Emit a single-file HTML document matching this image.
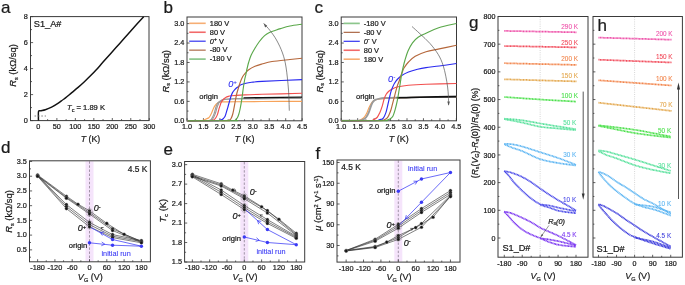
<!DOCTYPE html>
<html><head><meta charset="utf-8"><style>
html,body{margin:0;padding:0;background:#fff;}
svg{display:block;font-family:"Liberation Sans", sans-serif;}
text{-webkit-font-smoothing:antialiased;}
svg{will-change:transform;}
</style></head><body>
<svg width="685" height="285" viewBox="0 0 685 285">
<rect width="685" height="285" fill="#fff"/>
<text x="1" y="13.2" font-size="17" text-anchor="start" fill="#1a1a1a" stroke="#1a1a1a" stroke-width="0.22" font-weight="normal" font-style="normal" >a</text>
<text x="163.5" y="13.4" font-size="17" text-anchor="start" fill="#1a1a1a" stroke="#1a1a1a" stroke-width="0.22" font-weight="normal" font-style="normal" >b</text>
<text x="314.6" y="13.4" font-size="17" text-anchor="start" fill="#1a1a1a" stroke="#1a1a1a" stroke-width="0.22" font-weight="normal" font-style="normal" >c</text>
<text x="1" y="153.3" font-size="17" text-anchor="start" fill="#1a1a1a" stroke="#1a1a1a" stroke-width="0.22" font-weight="normal" font-style="normal" >d</text>
<text x="163.5" y="155" font-size="17" text-anchor="start" fill="#1a1a1a" stroke="#1a1a1a" stroke-width="0.22" font-weight="normal" font-style="normal" >e</text>
<text x="315.6" y="159" font-size="17" text-anchor="start" fill="#1a1a1a" stroke="#1a1a1a" stroke-width="0.22" font-weight="normal" font-style="normal" >f</text>
<text x="469" y="28" font-size="17" text-anchor="start" fill="#1a1a1a" stroke="#1a1a1a" stroke-width="0.22" font-weight="normal" font-style="normal" >g</text>
<text x="597.5" y="31" font-size="17" text-anchor="start" fill="#1a1a1a" stroke="#1a1a1a" stroke-width="0.22" font-weight="normal" font-style="normal" >h</text>
<rect x="30.5" y="16.6" width="118.5" height="104" fill="none" stroke="#3a3a3a" stroke-width="1" />
<line x1="38.4" y1="120.6" x2="38.4" y2="118" stroke="#3a3a3a" stroke-width="0.8" />
<text x="38.4" y="129" font-size="7.3" text-anchor="middle" fill="#1a1a1a" stroke="#1a1a1a" stroke-width="0.22" font-weight="normal" font-style="normal" >0</text>
<line x1="56.88" y1="120.6" x2="56.88" y2="118" stroke="#3a3a3a" stroke-width="0.8" />
<text x="56.88" y="129" font-size="7.3" text-anchor="middle" fill="#1a1a1a" stroke="#1a1a1a" stroke-width="0.22" font-weight="normal" font-style="normal" >50</text>
<line x1="75.35" y1="120.6" x2="75.35" y2="118" stroke="#3a3a3a" stroke-width="0.8" />
<text x="75.35" y="129" font-size="7.3" text-anchor="middle" fill="#1a1a1a" stroke="#1a1a1a" stroke-width="0.22" font-weight="normal" font-style="normal" >100</text>
<line x1="93.82" y1="120.6" x2="93.82" y2="118" stroke="#3a3a3a" stroke-width="0.8" />
<text x="93.82" y="129" font-size="7.3" text-anchor="middle" fill="#1a1a1a" stroke="#1a1a1a" stroke-width="0.22" font-weight="normal" font-style="normal" >150</text>
<line x1="112.3" y1="120.6" x2="112.3" y2="118" stroke="#3a3a3a" stroke-width="0.8" />
<text x="112.3" y="129" font-size="7.3" text-anchor="middle" fill="#1a1a1a" stroke="#1a1a1a" stroke-width="0.22" font-weight="normal" font-style="normal" >200</text>
<line x1="130.78" y1="120.6" x2="130.78" y2="118" stroke="#3a3a3a" stroke-width="0.8" />
<text x="130.78" y="129" font-size="7.3" text-anchor="middle" fill="#1a1a1a" stroke="#1a1a1a" stroke-width="0.22" font-weight="normal" font-style="normal" >250</text>
<line x1="149.25" y1="120.6" x2="149.25" y2="118" stroke="#3a3a3a" stroke-width="0.8" />
<text x="149.25" y="129" font-size="7.3" text-anchor="middle" fill="#1a1a1a" stroke="#1a1a1a" stroke-width="0.22" font-weight="normal" font-style="normal" >300</text>
<line x1="47.64" y1="120.6" x2="47.64" y2="119.1" stroke="#3a3a3a" stroke-width="0.8" />
<line x1="66.11" y1="120.6" x2="66.11" y2="119.1" stroke="#3a3a3a" stroke-width="0.8" />
<line x1="84.59" y1="120.6" x2="84.59" y2="119.1" stroke="#3a3a3a" stroke-width="0.8" />
<line x1="103.06" y1="120.6" x2="103.06" y2="119.1" stroke="#3a3a3a" stroke-width="0.8" />
<line x1="121.54" y1="120.6" x2="121.54" y2="119.1" stroke="#3a3a3a" stroke-width="0.8" />
<line x1="140.01" y1="120.6" x2="140.01" y2="119.1" stroke="#3a3a3a" stroke-width="0.8" />
<line x1="30.5" y1="120.6" x2="33.1" y2="120.6" stroke="#3a3a3a" stroke-width="0.8" />
<text x="27.9" y="122.86" font-size="7.3" text-anchor="end" fill="#1a1a1a" stroke="#1a1a1a" stroke-width="0.22" font-weight="normal" font-style="normal" >0</text>
<line x1="30.5" y1="94.6" x2="33.1" y2="94.6" stroke="#3a3a3a" stroke-width="0.8" />
<text x="27.9" y="96.86" font-size="7.3" text-anchor="end" fill="#1a1a1a" stroke="#1a1a1a" stroke-width="0.22" font-weight="normal" font-style="normal" >2</text>
<line x1="30.5" y1="68.6" x2="33.1" y2="68.6" stroke="#3a3a3a" stroke-width="0.8" />
<text x="27.9" y="70.86" font-size="7.3" text-anchor="end" fill="#1a1a1a" stroke="#1a1a1a" stroke-width="0.22" font-weight="normal" font-style="normal" >4</text>
<line x1="30.5" y1="42.6" x2="33.1" y2="42.6" stroke="#3a3a3a" stroke-width="0.8" />
<text x="27.9" y="44.86" font-size="7.3" text-anchor="end" fill="#1a1a1a" stroke="#1a1a1a" stroke-width="0.22" font-weight="normal" font-style="normal" >6</text>
<line x1="30.5" y1="16.6" x2="33.1" y2="16.6" stroke="#3a3a3a" stroke-width="0.8" />
<text x="27.9" y="18.86" font-size="7.3" text-anchor="end" fill="#1a1a1a" stroke="#1a1a1a" stroke-width="0.22" font-weight="normal" font-style="normal" >8</text>
<line x1="30.5" y1="107.6" x2="32" y2="107.6" stroke="#3a3a3a" stroke-width="0.8" />
<line x1="30.5" y1="81.6" x2="32" y2="81.6" stroke="#3a3a3a" stroke-width="0.8" />
<line x1="30.5" y1="55.6" x2="32" y2="55.6" stroke="#3a3a3a" stroke-width="0.8" />
<line x1="30.5" y1="29.6" x2="32" y2="29.6" stroke="#3a3a3a" stroke-width="0.8" />
<path d="M38.50,120.60 C38.50,119.10 38.17,113.23 38.50,111.60 C38.83,109.97 39.37,111.12 40.50,110.80 C41.63,110.48 43.45,110.30 45.30,109.70 C47.15,109.10 49.50,108.25 51.60,107.20 C53.70,106.15 56.07,104.60 57.90,103.40 C59.73,102.20 61.33,100.92 62.60,100.00 C63.87,99.08 63.97,99.13 65.50,97.90 C67.03,96.67 69.70,94.35 71.80,92.60 C73.90,90.85 76.00,89.22 78.10,87.40 C80.20,85.58 82.30,83.67 84.40,81.70 C86.50,79.73 88.72,77.58 90.70,75.60 C92.68,73.62 94.32,71.97 96.30,69.80 C98.28,67.63 100.15,65.37 102.60,62.60 C105.05,59.83 108.18,56.35 111.00,53.20 C113.82,50.05 116.68,46.87 119.50,43.70 C122.32,40.53 125.10,37.37 127.90,34.20 C130.70,31.03 133.67,27.62 136.30,24.70 C138.93,21.78 142.47,18.03 143.70,16.70" fill="none" stroke="#111" stroke-width="1.45" />
<path d="M34.5,116 H46" fill="none" stroke="#666" stroke-width="0.8" stroke-dasharray="1.6 1.8"/>
<text x="33.8" y="27" font-size="9.2" text-anchor="start" fill="#1a1a1a" stroke="#1a1a1a" stroke-width="0.22" font-weight="normal" font-style="normal" >S1_A#</text>
<text x="67" y="110.3" font-size="7.6" text-anchor="start" fill="#1a1a1a" stroke="#1a1a1a" stroke-width="0.22" font-weight="normal" font-style="normal" ><tspan font-style="italic">T</tspan><tspan font-size="5.5" dy="1.6">c</tspan><tspan dy="-1.6"> = 1.89 K</tspan></text>
<text x="90.5" y="142.4" font-size="8.8" text-anchor="middle" fill="#1a1a1a" stroke="#1a1a1a" stroke-width="0.22" font-weight="normal" font-style="normal" ><tspan font-style="italic">T</tspan> (K)</text>
<text x="16.2" y="65.5" font-size="9.4" text-anchor="middle" fill="#1a1a1a" stroke="#1a1a1a" stroke-width="0.22" font-weight="normal" font-style="normal" transform="rotate(-90 16.2 65.5)" ><tspan font-style="italic">R</tspan><tspan font-size="5.5" dy="1.6">s</tspan><tspan dy="-1.6"> (k&#937;/sq)</tspan></text>
<rect x="187" y="17" width="115" height="103.8" fill="none" stroke="#3a3a3a" stroke-width="1" />
<line x1="187" y1="120.8" x2="187" y2="118.2" stroke="#3a3a3a" stroke-width="0.8" />
<text x="187" y="129.2" font-size="7.3" text-anchor="middle" fill="#1a1a1a" stroke="#1a1a1a" stroke-width="0.22" font-weight="normal" font-style="normal" >1.0</text>
<line x1="203.45" y1="120.8" x2="203.45" y2="118.2" stroke="#3a3a3a" stroke-width="0.8" />
<text x="203.45" y="129.2" font-size="7.3" text-anchor="middle" fill="#1a1a1a" stroke="#1a1a1a" stroke-width="0.22" font-weight="normal" font-style="normal" >1.5</text>
<line x1="219.9" y1="120.8" x2="219.9" y2="118.2" stroke="#3a3a3a" stroke-width="0.8" />
<text x="219.9" y="129.2" font-size="7.3" text-anchor="middle" fill="#1a1a1a" stroke="#1a1a1a" stroke-width="0.22" font-weight="normal" font-style="normal" >2.0</text>
<line x1="236.35" y1="120.8" x2="236.35" y2="118.2" stroke="#3a3a3a" stroke-width="0.8" />
<text x="236.35" y="129.2" font-size="7.3" text-anchor="middle" fill="#1a1a1a" stroke="#1a1a1a" stroke-width="0.22" font-weight="normal" font-style="normal" >2.5</text>
<line x1="252.8" y1="120.8" x2="252.8" y2="118.2" stroke="#3a3a3a" stroke-width="0.8" />
<text x="252.8" y="129.2" font-size="7.3" text-anchor="middle" fill="#1a1a1a" stroke="#1a1a1a" stroke-width="0.22" font-weight="normal" font-style="normal" >3.0</text>
<line x1="269.25" y1="120.8" x2="269.25" y2="118.2" stroke="#3a3a3a" stroke-width="0.8" />
<text x="269.25" y="129.2" font-size="7.3" text-anchor="middle" fill="#1a1a1a" stroke="#1a1a1a" stroke-width="0.22" font-weight="normal" font-style="normal" >3.5</text>
<line x1="285.7" y1="120.8" x2="285.7" y2="118.2" stroke="#3a3a3a" stroke-width="0.8" />
<text x="285.7" y="129.2" font-size="7.3" text-anchor="middle" fill="#1a1a1a" stroke="#1a1a1a" stroke-width="0.22" font-weight="normal" font-style="normal" >4.0</text>
<line x1="302.15" y1="120.8" x2="302.15" y2="118.2" stroke="#3a3a3a" stroke-width="0.8" />
<text x="302.15" y="129.2" font-size="7.3" text-anchor="middle" fill="#1a1a1a" stroke="#1a1a1a" stroke-width="0.22" font-weight="normal" font-style="normal" >4.5</text>
<line x1="195.22" y1="120.8" x2="195.22" y2="119.3" stroke="#3a3a3a" stroke-width="0.8" />
<line x1="211.68" y1="120.8" x2="211.68" y2="119.3" stroke="#3a3a3a" stroke-width="0.8" />
<line x1="228.12" y1="120.8" x2="228.12" y2="119.3" stroke="#3a3a3a" stroke-width="0.8" />
<line x1="244.57" y1="120.8" x2="244.57" y2="119.3" stroke="#3a3a3a" stroke-width="0.8" />
<line x1="261.02" y1="120.8" x2="261.02" y2="119.3" stroke="#3a3a3a" stroke-width="0.8" />
<line x1="277.48" y1="120.8" x2="277.48" y2="119.3" stroke="#3a3a3a" stroke-width="0.8" />
<line x1="293.93" y1="120.8" x2="293.93" y2="119.3" stroke="#3a3a3a" stroke-width="0.8" />
<line x1="187" y1="120.8" x2="189.6" y2="120.8" stroke="#3a3a3a" stroke-width="0.8" />
<text x="184.4" y="123.06" font-size="7.3" text-anchor="end" fill="#1a1a1a" stroke="#1a1a1a" stroke-width="0.22" font-weight="normal" font-style="normal" >0.0</text>
<line x1="187" y1="101.36" x2="189.6" y2="101.36" stroke="#3a3a3a" stroke-width="0.8" />
<text x="184.4" y="103.62" font-size="7.3" text-anchor="end" fill="#1a1a1a" stroke="#1a1a1a" stroke-width="0.22" font-weight="normal" font-style="normal" >0.6</text>
<line x1="187" y1="81.92" x2="189.6" y2="81.92" stroke="#3a3a3a" stroke-width="0.8" />
<text x="184.4" y="84.18" font-size="7.3" text-anchor="end" fill="#1a1a1a" stroke="#1a1a1a" stroke-width="0.22" font-weight="normal" font-style="normal" >1.2</text>
<line x1="187" y1="62.48" x2="189.6" y2="62.48" stroke="#3a3a3a" stroke-width="0.8" />
<text x="184.4" y="64.74" font-size="7.3" text-anchor="end" fill="#1a1a1a" stroke="#1a1a1a" stroke-width="0.22" font-weight="normal" font-style="normal" >1.8</text>
<line x1="187" y1="43.04" x2="189.6" y2="43.04" stroke="#3a3a3a" stroke-width="0.8" />
<text x="184.4" y="45.3" font-size="7.3" text-anchor="end" fill="#1a1a1a" stroke="#1a1a1a" stroke-width="0.22" font-weight="normal" font-style="normal" >2.4</text>
<line x1="187" y1="23.6" x2="189.6" y2="23.6" stroke="#3a3a3a" stroke-width="0.8" />
<text x="184.4" y="25.86" font-size="7.3" text-anchor="end" fill="#1a1a1a" stroke="#1a1a1a" stroke-width="0.22" font-weight="normal" font-style="normal" >3.0</text>
<line x1="187" y1="111.08" x2="188.5" y2="111.08" stroke="#3a3a3a" stroke-width="0.8" />
<line x1="187" y1="91.64" x2="188.5" y2="91.64" stroke="#3a3a3a" stroke-width="0.8" />
<line x1="187" y1="72.2" x2="188.5" y2="72.2" stroke="#3a3a3a" stroke-width="0.8" />
<line x1="187" y1="52.76" x2="188.5" y2="52.76" stroke="#3a3a3a" stroke-width="0.8" />
<line x1="187" y1="33.32" x2="188.5" y2="33.32" stroke="#3a3a3a" stroke-width="0.8" />
<text x="244.5" y="142.3" font-size="9" text-anchor="middle" fill="#1a1a1a" stroke="#1a1a1a" stroke-width="0.22" font-weight="normal" font-style="normal" ><tspan font-style="italic">T</tspan> (K)</text>
<text x="168.7" y="71.3" font-size="9.4" text-anchor="middle" fill="#1a1a1a" stroke="#1a1a1a" stroke-width="0.22" font-weight="normal" font-style="normal" transform="rotate(-90 168.7 71.3)" ><tspan font-style="italic">R</tspan><tspan font-size="5.5" dy="1.6">s</tspan><tspan dy="-1.6"> (k&#937;/sq)</tspan></text>
<rect x="341.2" y="17" width="115.3" height="103.8" fill="none" stroke="#3a3a3a" stroke-width="1" />
<line x1="341.2" y1="120.8" x2="341.2" y2="118.2" stroke="#3a3a3a" stroke-width="0.8" />
<text x="341.2" y="129.2" font-size="7.3" text-anchor="middle" fill="#1a1a1a" stroke="#1a1a1a" stroke-width="0.22" font-weight="normal" font-style="normal" >1.0</text>
<line x1="357.65" y1="120.8" x2="357.65" y2="118.2" stroke="#3a3a3a" stroke-width="0.8" />
<text x="357.65" y="129.2" font-size="7.3" text-anchor="middle" fill="#1a1a1a" stroke="#1a1a1a" stroke-width="0.22" font-weight="normal" font-style="normal" >1.5</text>
<line x1="374.1" y1="120.8" x2="374.1" y2="118.2" stroke="#3a3a3a" stroke-width="0.8" />
<text x="374.1" y="129.2" font-size="7.3" text-anchor="middle" fill="#1a1a1a" stroke="#1a1a1a" stroke-width="0.22" font-weight="normal" font-style="normal" >2.0</text>
<line x1="390.55" y1="120.8" x2="390.55" y2="118.2" stroke="#3a3a3a" stroke-width="0.8" />
<text x="390.55" y="129.2" font-size="7.3" text-anchor="middle" fill="#1a1a1a" stroke="#1a1a1a" stroke-width="0.22" font-weight="normal" font-style="normal" >2.5</text>
<line x1="407" y1="120.8" x2="407" y2="118.2" stroke="#3a3a3a" stroke-width="0.8" />
<text x="407" y="129.2" font-size="7.3" text-anchor="middle" fill="#1a1a1a" stroke="#1a1a1a" stroke-width="0.22" font-weight="normal" font-style="normal" >3.0</text>
<line x1="423.45" y1="120.8" x2="423.45" y2="118.2" stroke="#3a3a3a" stroke-width="0.8" />
<text x="423.45" y="129.2" font-size="7.3" text-anchor="middle" fill="#1a1a1a" stroke="#1a1a1a" stroke-width="0.22" font-weight="normal" font-style="normal" >3.5</text>
<line x1="439.9" y1="120.8" x2="439.9" y2="118.2" stroke="#3a3a3a" stroke-width="0.8" />
<text x="439.9" y="129.2" font-size="7.3" text-anchor="middle" fill="#1a1a1a" stroke="#1a1a1a" stroke-width="0.22" font-weight="normal" font-style="normal" >4.0</text>
<line x1="456.35" y1="120.8" x2="456.35" y2="118.2" stroke="#3a3a3a" stroke-width="0.8" />
<text x="456.35" y="129.2" font-size="7.3" text-anchor="middle" fill="#1a1a1a" stroke="#1a1a1a" stroke-width="0.22" font-weight="normal" font-style="normal" >4.5</text>
<line x1="349.43" y1="120.8" x2="349.43" y2="119.3" stroke="#3a3a3a" stroke-width="0.8" />
<line x1="365.88" y1="120.8" x2="365.88" y2="119.3" stroke="#3a3a3a" stroke-width="0.8" />
<line x1="382.32" y1="120.8" x2="382.32" y2="119.3" stroke="#3a3a3a" stroke-width="0.8" />
<line x1="398.77" y1="120.8" x2="398.77" y2="119.3" stroke="#3a3a3a" stroke-width="0.8" />
<line x1="415.22" y1="120.8" x2="415.22" y2="119.3" stroke="#3a3a3a" stroke-width="0.8" />
<line x1="431.67" y1="120.8" x2="431.67" y2="119.3" stroke="#3a3a3a" stroke-width="0.8" />
<line x1="448.12" y1="120.8" x2="448.12" y2="119.3" stroke="#3a3a3a" stroke-width="0.8" />
<line x1="341.2" y1="120.8" x2="343.8" y2="120.8" stroke="#3a3a3a" stroke-width="0.8" />
<text x="338.6" y="123.06" font-size="7.3" text-anchor="end" fill="#1a1a1a" stroke="#1a1a1a" stroke-width="0.22" font-weight="normal" font-style="normal" >0.0</text>
<line x1="341.2" y1="101.36" x2="343.8" y2="101.36" stroke="#3a3a3a" stroke-width="0.8" />
<text x="338.6" y="103.62" font-size="7.3" text-anchor="end" fill="#1a1a1a" stroke="#1a1a1a" stroke-width="0.22" font-weight="normal" font-style="normal" >0.6</text>
<line x1="341.2" y1="81.92" x2="343.8" y2="81.92" stroke="#3a3a3a" stroke-width="0.8" />
<text x="338.6" y="84.18" font-size="7.3" text-anchor="end" fill="#1a1a1a" stroke="#1a1a1a" stroke-width="0.22" font-weight="normal" font-style="normal" >1.2</text>
<line x1="341.2" y1="62.48" x2="343.8" y2="62.48" stroke="#3a3a3a" stroke-width="0.8" />
<text x="338.6" y="64.74" font-size="7.3" text-anchor="end" fill="#1a1a1a" stroke="#1a1a1a" stroke-width="0.22" font-weight="normal" font-style="normal" >1.8</text>
<line x1="341.2" y1="43.04" x2="343.8" y2="43.04" stroke="#3a3a3a" stroke-width="0.8" />
<text x="338.6" y="45.3" font-size="7.3" text-anchor="end" fill="#1a1a1a" stroke="#1a1a1a" stroke-width="0.22" font-weight="normal" font-style="normal" >2.4</text>
<line x1="341.2" y1="23.6" x2="343.8" y2="23.6" stroke="#3a3a3a" stroke-width="0.8" />
<text x="338.6" y="25.86" font-size="7.3" text-anchor="end" fill="#1a1a1a" stroke="#1a1a1a" stroke-width="0.22" font-weight="normal" font-style="normal" >3.0</text>
<line x1="341.2" y1="111.08" x2="342.7" y2="111.08" stroke="#3a3a3a" stroke-width="0.8" />
<line x1="341.2" y1="91.64" x2="342.7" y2="91.64" stroke="#3a3a3a" stroke-width="0.8" />
<line x1="341.2" y1="72.2" x2="342.7" y2="72.2" stroke="#3a3a3a" stroke-width="0.8" />
<line x1="341.2" y1="52.76" x2="342.7" y2="52.76" stroke="#3a3a3a" stroke-width="0.8" />
<line x1="341.2" y1="33.32" x2="342.7" y2="33.32" stroke="#3a3a3a" stroke-width="0.8" />
<text x="398.7" y="142.3" font-size="9" text-anchor="middle" fill="#1a1a1a" stroke="#1a1a1a" stroke-width="0.22" font-weight="normal" font-style="normal" ><tspan font-style="italic">T</tspan> (K)</text>
<text x="322.9" y="71.3" font-size="9.4" text-anchor="middle" fill="#1a1a1a" stroke="#1a1a1a" stroke-width="0.22" font-weight="normal" font-style="normal" transform="rotate(-90 322.9 71.3)" ><tspan font-style="italic">R</tspan><tspan font-size="5.5" dy="1.6">s</tspan><tspan dy="-1.6"> (k&#937;/sq)</tspan></text>
<path d="M187.50,120.80 C189.58,120.78 197.42,120.77 200.00,120.70 C202.58,120.63 202.17,120.62 203.00,120.40 C203.83,120.18 204.33,119.70 205.00,119.40 C205.67,119.10 206.37,118.88 207.00,118.60 C207.63,118.32 208.25,118.20 208.80,117.70 C209.35,117.20 209.83,116.38 210.30,115.60 C210.77,114.82 211.18,113.93 211.60,113.00 C212.02,112.07 212.40,110.95 212.80,110.00 C213.20,109.05 213.60,108.07 214.00,107.30 C214.40,106.53 214.80,105.95 215.20,105.40 C215.60,104.85 215.97,104.42 216.40,104.00 C216.83,103.58 217.33,103.20 217.80,102.90 C218.27,102.60 218.58,102.37 219.20,102.20 C219.82,102.03 218.87,101.97 221.50,101.90 C224.13,101.83 228.25,101.87 235.00,101.80 C241.75,101.73 250.83,101.58 262.00,101.50 C273.17,101.42 295.33,101.33 302.00,101.30" fill="none" stroke="#f7a35a" stroke-width="1.15" stroke-linejoin="round"/>
<path d="M186.30,120.80 C189.72,120.78 202.93,120.77 206.80,120.70 C210.67,120.63 208.78,120.58 209.50,120.40 C210.22,120.22 210.60,120.13 211.10,119.60 C211.60,119.07 212.02,118.15 212.50,117.20 C212.98,116.25 213.58,115.02 214.00,113.90 C214.42,112.78 214.68,111.60 215.00,110.50 C215.32,109.40 215.60,108.22 215.90,107.30 C216.20,106.38 216.50,105.72 216.80,105.00 C217.10,104.28 217.32,103.57 217.70,103.00 C218.08,102.43 218.62,101.98 219.10,101.60 C219.58,101.22 220.07,101.00 220.60,100.70 C221.13,100.40 221.63,100.03 222.30,99.80 C222.97,99.57 222.48,99.47 224.60,99.30 C226.72,99.13 228.77,98.92 235.00,98.80 C241.23,98.68 250.83,98.68 262.00,98.60 C273.17,98.52 295.33,98.35 302.00,98.30" fill="none" stroke="#9a9a9a" stroke-width="1.15" stroke-linejoin="round"/>
<path d="M187.50,120.80 C190.92,120.78 204.13,120.77 208.00,120.70 C211.87,120.63 209.98,120.58 210.70,120.40 C211.42,120.22 211.80,120.13 212.30,119.60 C212.80,119.07 213.22,118.15 213.70,117.20 C214.18,116.25 214.78,115.02 215.20,113.90 C215.62,112.78 215.88,111.60 216.20,110.50 C216.52,109.40 216.80,108.22 217.10,107.30 C217.40,106.38 217.70,105.72 218.00,105.00 C218.30,104.28 218.52,103.57 218.90,103.00 C219.28,102.43 219.82,101.98 220.30,101.60 C220.78,101.22 221.27,101.00 221.80,100.70 C222.33,100.40 222.83,100.03 223.50,99.80 C224.17,99.57 223.88,99.47 225.80,99.30 C227.72,99.13 228.97,98.92 235.00,98.80 C241.03,98.68 250.83,98.68 262.00,98.60 C273.17,98.52 295.33,98.35 302.00,98.30" fill="none" stroke="#9a9a9a" stroke-width="1.15" stroke-linejoin="round"/>
<path d="M243.50,97.90 C246.58,97.85 252.25,97.73 262.00,97.60 C271.75,97.47 295.33,97.18 302.00,97.10" fill="none" stroke="#111" stroke-width="1.35" stroke-linejoin="round"/>
<path d="M187.50,120.80 C191.25,120.78 205.83,120.78 210.00,120.70 C214.17,120.62 211.75,120.52 212.50,120.30 C213.25,120.08 213.92,119.87 214.50,119.40 C215.08,118.93 215.53,118.25 216.00,117.50 C216.47,116.75 216.92,115.90 217.30,114.90 C217.68,113.90 217.98,112.62 218.30,111.50 C218.62,110.38 218.88,109.25 219.20,108.20 C219.52,107.15 219.88,106.13 220.20,105.20 C220.52,104.27 220.72,103.40 221.10,102.60 C221.48,101.80 222.03,101.03 222.50,100.40 C222.97,99.77 223.35,99.28 223.90,98.80 C224.45,98.32 225.17,97.87 225.80,97.50 C226.43,97.13 226.75,96.90 227.70,96.60 C228.65,96.30 228.62,95.98 231.50,95.70 C234.38,95.42 239.92,95.13 245.00,94.90 C250.08,94.67 252.50,94.57 262.00,94.30 C271.50,94.03 295.33,93.47 302.00,93.30" fill="none" stroke="#f2504f" stroke-width="1.15" stroke-linejoin="round"/>
<path d="M187.50,120.80 C192.08,120.78 209.77,120.75 215.00,120.70 C220.23,120.65 217.73,120.68 218.90,120.50 C220.07,120.32 221.25,119.93 222.00,119.60 C222.75,119.27 222.93,118.97 223.40,118.50 C223.87,118.03 224.40,117.52 224.80,116.80 C225.20,116.08 225.48,115.15 225.80,114.20 C226.12,113.25 226.38,112.17 226.70,111.10 C227.02,110.03 227.38,108.90 227.70,107.80 C228.02,106.70 228.33,105.47 228.60,104.50 C228.87,103.53 229.07,102.80 229.30,102.00 C229.53,101.20 229.72,100.67 230.00,99.70 C230.28,98.73 230.58,97.38 231.00,96.20 C231.42,95.02 231.93,93.63 232.50,92.60 C233.07,91.57 233.75,90.77 234.40,90.00 C235.05,89.23 235.65,88.62 236.40,88.00 C237.15,87.38 238.13,86.85 238.90,86.30 C239.67,85.75 239.82,85.22 241.00,84.70 C242.18,84.18 244.23,83.60 246.00,83.20 C247.77,82.80 248.93,82.60 251.60,82.30 C254.27,82.00 253.60,81.85 262.00,81.40 C270.40,80.95 295.33,79.90 302.00,79.60" fill="none" stroke="#2a2af0" stroke-width="1.15" stroke-linejoin="round"/>
<path d="M187.50,120.80 C193.92,120.78 219.17,120.77 226.00,120.70 C232.83,120.63 227.70,120.68 228.50,120.40 C229.30,120.12 230.07,120.15 230.80,119.00 C231.53,117.85 232.15,116.50 232.90,113.50 C233.65,110.50 234.67,104.25 235.30,101.00 C235.93,97.75 236.30,95.75 236.70,94.00 C237.10,92.25 237.18,92.25 237.70,90.50 C238.22,88.75 238.98,85.78 239.80,83.50 C240.62,81.22 241.65,78.55 242.60,76.80 C243.55,75.05 244.48,74.17 245.50,73.00 C246.52,71.83 247.12,70.92 248.70,69.80 C250.28,68.68 252.78,67.27 255.00,66.30 C257.22,65.33 259.17,64.80 262.00,64.00 C264.83,63.20 267.33,62.25 272.00,61.50 C276.67,60.75 285.00,60.03 290.00,59.50 C295.00,58.97 300.00,58.50 302.00,58.30" fill="none" stroke="#b5673b" stroke-width="1.15" stroke-linejoin="round"/>
<path d="M187.50,120.80 C195.25,120.78 226.05,120.80 234.00,120.70 C241.95,120.60 234.67,120.65 235.20,120.20 C235.73,119.75 236.62,118.95 237.20,118.00 C237.78,117.05 238.20,116.08 238.70,114.50 C239.20,112.92 239.67,111.13 240.20,108.50 C240.73,105.87 241.38,102.12 241.90,98.70 C242.42,95.28 242.85,91.12 243.30,88.00 C243.75,84.88 244.18,82.20 244.60,80.00 C245.02,77.80 245.37,76.80 245.80,74.80 C246.23,72.80 246.73,70.05 247.20,68.00 C247.67,65.95 247.97,64.58 248.60,62.50 C249.23,60.42 249.97,57.83 251.00,55.50 C252.03,53.17 253.40,50.83 254.80,48.50 C256.20,46.17 257.77,43.65 259.40,41.50 C261.03,39.35 262.83,37.13 264.60,35.60 C266.37,34.07 268.27,33.15 270.00,32.30 C271.73,31.45 273.25,31.12 275.00,30.50 C276.75,29.88 278.00,29.35 280.50,28.60 C283.00,27.85 286.42,26.73 290.00,26.00 C293.58,25.27 300.00,24.50 302.00,24.20" fill="none" stroke="#5aa84a" stroke-width="1.15" stroke-linejoin="round"/>
<line x1="189.2" y1="23.3" x2="205.7" y2="23.3" stroke="#f6ae74" stroke-width="1.6" />
<text x="209.8" y="25.6" font-size="7.4" text-anchor="start" fill="#1a1a1a" stroke="#1a1a1a" stroke-width="0.22" font-weight="normal" font-style="normal" >180 V</text>
<line x1="189.2" y1="32.25" x2="205.7" y2="32.25" stroke="#f26a6a" stroke-width="1.6" />
<text x="209.8" y="34.55" font-size="7.4" text-anchor="start" fill="#1a1a1a" stroke="#1a1a1a" stroke-width="0.22" font-weight="normal" font-style="normal" >80 V</text>
<line x1="189.2" y1="41.2" x2="205.7" y2="41.2" stroke="#3434f0" stroke-width="1.2" />
<text x="209.8" y="43.5" font-size="7.4" text-anchor="start" fill="#1a1a1a" stroke="#1a1a1a" stroke-width="0.22" font-weight="normal" font-style="normal" ><tspan font-style="italic">0</tspan><tspan dy="-2.5" font-size="5">+</tspan><tspan dy="2.5"> V</tspan></text>
<line x1="189.2" y1="50.15" x2="205.7" y2="50.15" stroke="#b07050" stroke-width="1.25" />
<text x="209.8" y="52.45" font-size="7.4" text-anchor="start" fill="#1a1a1a" stroke="#1a1a1a" stroke-width="0.22" font-weight="normal" font-style="normal" >-80 V</text>
<line x1="189.2" y1="59.1" x2="205.7" y2="59.1" stroke="#8cc68c" stroke-width="1.7" />
<text x="209.8" y="61.4" font-size="7.4" text-anchor="start" fill="#1a1a1a" stroke="#1a1a1a" stroke-width="0.22" font-weight="normal" font-style="normal" >-180 V</text>
<text x="199.3" y="98.6" font-size="7.6" text-anchor="start" fill="#1a1a1a" stroke="#1a1a1a" stroke-width="0.22" font-weight="normal" font-style="normal" >origin</text>
<text x="228.2" y="87.2" font-size="9.2" text-anchor="start" fill="#2a2af0" stroke="#2a2af0" stroke-width="0.08" font-weight="normal" font-style="italic" >0<tspan dy="-3" font-size="6">+</tspan></text>
<path d="M289.30,110.70 C289.17,107.25 289.05,97.28 288.50,90.00 C287.95,82.72 287.00,73.17 286.00,67.00 C285.00,60.83 284.08,57.50 282.50,53.00 C280.92,48.50 278.58,43.75 276.50,40.00 C274.42,36.25 272.12,33.25 270.00,30.50 C267.88,27.75 264.83,24.67 263.80,23.50" fill="none" stroke="#555" stroke-width="0.7" />
<path d="M263.6,23.3 L267.21,25.81 L265.16,27.41 Z" fill="#555"/>
<path d="M341.50,120.80 C343.92,120.78 353.00,120.78 356.00,120.70 C359.00,120.62 358.50,120.58 359.50,120.30 C360.50,120.02 361.17,119.58 362.00,119.00 C362.83,118.42 363.70,117.80 364.50,116.80 C365.30,115.80 366.08,114.47 366.80,113.00 C367.52,111.53 368.13,109.50 368.80,108.00 C369.47,106.50 370.10,105.13 370.80,104.00 C371.50,102.87 372.13,101.92 373.00,101.20 C373.87,100.48 374.83,100.08 376.00,99.70 C377.17,99.32 378.33,99.12 380.00,98.90 C381.67,98.68 383.50,98.57 386.00,98.40 C388.50,98.23 389.33,98.08 395.00,97.90 C400.67,97.72 409.75,97.52 420.00,97.30 C430.25,97.08 450.42,96.72 456.50,96.60" fill="none" stroke="#f7a35a" stroke-width="1.15" stroke-linejoin="round"/>
<path d="M341.50,120.80 C344.42,120.78 355.45,120.90 359.00,120.70 C362.55,120.50 361.63,120.13 362.80,119.60 C363.97,119.07 365.03,118.62 366.00,117.50 C366.97,116.38 367.83,114.63 368.60,112.90 C369.37,111.17 369.95,108.83 370.60,107.10 C371.25,105.37 371.75,103.70 372.50,102.50 C373.25,101.30 373.90,100.55 375.10,99.90 C376.30,99.25 377.85,98.92 379.70,98.60 C381.55,98.28 383.65,98.17 386.20,98.00 C388.75,97.83 389.37,97.75 395.00,97.60 C400.63,97.45 409.75,97.23 420.00,97.10 C430.25,96.97 450.42,96.85 456.50,96.80" fill="none" stroke="#9a9a9a" stroke-width="1.9" stroke-linejoin="round"/>
<path d="M396.80,97.90 C400.67,97.78 410.05,97.42 420.00,97.20 C429.95,96.98 450.42,96.70 456.50,96.60" fill="none" stroke="#111" stroke-width="1.6" stroke-linejoin="round"/>
<path d="M341.50,120.80 C346.13,120.78 364.02,120.87 369.30,120.70 C374.58,120.53 371.90,120.33 373.20,119.80 C374.50,119.27 376.02,118.65 377.10,117.50 C378.18,116.35 378.83,114.85 379.70,112.90 C380.57,110.95 381.55,108.15 382.30,105.80 C383.05,103.45 383.55,100.72 384.20,98.80 C384.85,96.88 385.43,95.55 386.20,94.30 C386.97,93.05 387.80,92.18 388.80,91.30 C389.80,90.42 390.65,89.75 392.20,89.00 C393.75,88.25 395.40,87.43 398.10,86.80 C400.80,86.17 403.72,85.63 408.40,85.20 C413.08,84.77 418.18,84.48 426.20,84.20 C434.22,83.92 451.45,83.62 456.50,83.50" fill="none" stroke="#f2504f" stroke-width="1.15" stroke-linejoin="round"/>
<path d="M341.50,120.80 C347.08,120.78 368.80,120.82 375.00,120.70 C381.20,120.58 377.70,120.32 378.70,120.10 C379.70,119.88 380.23,119.73 381.00,119.40 C381.77,119.07 382.48,119.23 383.30,118.10 C384.12,116.97 385.15,114.78 385.90,112.60 C386.65,110.42 387.20,107.52 387.80,105.00 C388.40,102.48 388.95,99.80 389.50,97.50 C390.05,95.20 390.58,92.92 391.10,91.20 C391.62,89.48 392.03,88.52 392.60,87.20 C393.17,85.88 393.73,84.58 394.50,83.30 C395.27,82.02 396.00,80.80 397.20,79.50 C398.40,78.20 399.82,76.75 401.70,75.50 C403.58,74.25 405.87,73.03 408.50,72.00 C411.13,70.97 414.58,70.03 417.50,69.30 C420.42,68.57 422.38,68.15 426.00,67.60 C429.62,67.05 434.12,66.68 439.20,66.00 C444.28,65.32 453.62,63.92 456.50,63.50" fill="none" stroke="#2a2af0" stroke-width="1.15" stroke-linejoin="round"/>
<path d="M341.50,120.80 C347.92,120.78 372.93,120.85 380.00,120.70 C387.07,120.55 382.65,120.42 383.90,119.90 C385.15,119.38 386.42,119.00 387.50,117.60 C388.58,116.20 389.55,113.83 390.40,111.50 C391.25,109.17 391.85,106.38 392.60,103.60 C393.35,100.82 394.15,97.63 394.90,94.80 C395.65,91.97 396.37,88.95 397.10,86.60 C397.83,84.25 398.72,82.38 399.30,80.70 C399.88,79.02 400.07,78.03 400.60,76.50 C401.13,74.97 401.93,72.92 402.50,71.50 C403.07,70.08 403.00,69.58 404.00,68.00 C405.00,66.42 406.63,63.95 408.50,62.00 C410.37,60.05 412.28,58.02 415.20,56.30 C418.12,54.58 422.00,52.93 426.00,51.70 C430.00,50.47 434.12,49.97 439.20,48.90 C444.28,47.83 453.62,45.90 456.50,45.30" fill="none" stroke="#b5673b" stroke-width="1.15" stroke-linejoin="round"/>
<path d="M341.50,120.80 C348.50,120.78 375.97,120.80 383.50,120.70 C391.03,120.60 385.63,120.47 386.70,120.20 C387.77,119.93 388.87,119.77 389.90,119.10 C390.93,118.43 392.03,117.75 392.90,116.20 C393.77,114.65 394.37,112.38 395.10,109.80 C395.83,107.22 396.68,103.70 397.30,100.70 C397.92,97.70 398.32,94.67 398.80,91.80 C399.28,88.93 399.72,86.47 400.20,83.50 C400.68,80.53 401.18,76.83 401.70,74.00 C402.22,71.17 402.75,68.83 403.30,66.50 C403.85,64.17 404.22,62.58 405.00,60.00 C405.78,57.42 406.75,53.87 408.00,51.00 C409.25,48.13 410.82,45.10 412.50,42.80 C414.18,40.50 415.93,38.75 418.10,37.20 C420.27,35.65 422.07,35.07 425.50,33.50 C428.93,31.93 433.53,29.47 438.70,27.80 C443.87,26.13 453.53,24.22 456.50,23.50" fill="none" stroke="#5aa84a" stroke-width="1.15" stroke-linejoin="round"/>
<line x1="343.6" y1="23.4" x2="359.8" y2="23.4" stroke="#8cc68c" stroke-width="1.7" />
<text x="363.8" y="25.7" font-size="7.4" text-anchor="start" fill="#1a1a1a" stroke="#1a1a1a" stroke-width="0.22" font-weight="normal" font-style="normal" >-180 V</text>
<line x1="343.6" y1="32.35" x2="359.8" y2="32.35" stroke="#b07050" stroke-width="1.25" />
<text x="363.8" y="34.65" font-size="7.4" text-anchor="start" fill="#1a1a1a" stroke="#1a1a1a" stroke-width="0.22" font-weight="normal" font-style="normal" >-80 V</text>
<line x1="343.6" y1="41.3" x2="359.8" y2="41.3" stroke="#3434f0" stroke-width="1.2" />
<text x="363.8" y="43.6" font-size="7.4" text-anchor="start" fill="#1a1a1a" stroke="#1a1a1a" stroke-width="0.22" font-weight="normal" font-style="normal" ><tspan font-style="italic">0</tspan><tspan dy="-2.5" font-size="5">-</tspan><tspan dy="2.5"> V</tspan></text>
<line x1="343.6" y1="50.25" x2="359.8" y2="50.25" stroke="#f26a6a" stroke-width="1.6" />
<text x="363.8" y="52.55" font-size="7.4" text-anchor="start" fill="#1a1a1a" stroke="#1a1a1a" stroke-width="0.22" font-weight="normal" font-style="normal" >80 V</text>
<line x1="343.6" y1="59.2" x2="359.8" y2="59.2" stroke="#f6ae74" stroke-width="1.6" />
<text x="363.8" y="61.5" font-size="7.4" text-anchor="start" fill="#1a1a1a" stroke="#1a1a1a" stroke-width="0.22" font-weight="normal" font-style="normal" >180 V</text>
<text x="356" y="98.6" font-size="7.6" text-anchor="start" fill="#1a1a1a" stroke="#1a1a1a" stroke-width="0.22" font-weight="normal" font-style="normal" >origin</text>
<text x="388" y="81.8" font-size="9.2" text-anchor="start" fill="#2a2af0" stroke="#2a2af0" stroke-width="0.08" font-weight="normal" font-style="italic" >0<tspan dy="-3" font-size="6">-</tspan></text>
<path d="M412.00,26.50 C413.33,27.72 417.00,30.97 420.00,33.80 C423.00,36.63 426.97,40.07 430.00,43.50 C433.03,46.93 436.03,50.82 438.20,54.40 C440.37,57.98 441.73,61.37 443.00,65.00 C444.27,68.63 445.03,72.53 445.80,76.20 C446.57,79.87 447.17,83.67 447.60,87.00 C448.03,90.33 448.23,93.20 448.40,96.20 C448.57,99.20 448.57,103.53 448.60,105.00" fill="none" stroke="#555" stroke-width="0.7" />
<path d="M448.6,105.8 L447.3,101.6 L449.9,101.6 Z" fill="#555"/>
<rect x="85.5" y="161.3" width="8" height="100" fill="#f5e4fb" stroke="none" stroke-width="1" />
<line x1="89.5" y1="161.3" x2="89.5" y2="261.3" stroke="#8c8090" stroke-width="0.8" stroke-dasharray="2.4 1.7"/>
<rect x="29.5" y="160.8" width="120.9" height="101" fill="none" stroke="#3a3a3a" stroke-width="1" />
<line x1="37.61" y1="261.8" x2="37.61" y2="259.2" stroke="#3a3a3a" stroke-width="0.8" />
<text x="37.61" y="270.2" font-size="7.3" text-anchor="middle" fill="#1a1a1a" stroke="#1a1a1a" stroke-width="0.22" font-weight="normal" font-style="normal" >-180</text>
<line x1="54.9" y1="261.8" x2="54.9" y2="259.2" stroke="#3a3a3a" stroke-width="0.8" />
<text x="54.9" y="270.2" font-size="7.3" text-anchor="middle" fill="#1a1a1a" stroke="#1a1a1a" stroke-width="0.22" font-weight="normal" font-style="normal" >-120</text>
<line x1="72.2" y1="261.8" x2="72.2" y2="259.2" stroke="#3a3a3a" stroke-width="0.8" />
<text x="72.2" y="270.2" font-size="7.3" text-anchor="middle" fill="#1a1a1a" stroke="#1a1a1a" stroke-width="0.22" font-weight="normal" font-style="normal" >-60</text>
<line x1="89.5" y1="261.8" x2="89.5" y2="259.2" stroke="#3a3a3a" stroke-width="0.8" />
<text x="89.5" y="270.2" font-size="7.3" text-anchor="middle" fill="#1a1a1a" stroke="#1a1a1a" stroke-width="0.22" font-weight="normal" font-style="normal" >0</text>
<line x1="106.8" y1="261.8" x2="106.8" y2="259.2" stroke="#3a3a3a" stroke-width="0.8" />
<text x="106.8" y="270.2" font-size="7.3" text-anchor="middle" fill="#1a1a1a" stroke="#1a1a1a" stroke-width="0.22" font-weight="normal" font-style="normal" >60</text>
<line x1="124.1" y1="261.8" x2="124.1" y2="259.2" stroke="#3a3a3a" stroke-width="0.8" />
<text x="124.1" y="270.2" font-size="7.3" text-anchor="middle" fill="#1a1a1a" stroke="#1a1a1a" stroke-width="0.22" font-weight="normal" font-style="normal" >120</text>
<line x1="141.39" y1="261.8" x2="141.39" y2="259.2" stroke="#3a3a3a" stroke-width="0.8" />
<text x="141.39" y="270.2" font-size="7.3" text-anchor="middle" fill="#1a1a1a" stroke="#1a1a1a" stroke-width="0.22" font-weight="normal" font-style="normal" >180</text>
<line x1="46.26" y1="261.8" x2="46.26" y2="260.3" stroke="#3a3a3a" stroke-width="0.8" />
<line x1="63.55" y1="261.8" x2="63.55" y2="260.3" stroke="#3a3a3a" stroke-width="0.8" />
<line x1="80.85" y1="261.8" x2="80.85" y2="260.3" stroke="#3a3a3a" stroke-width="0.8" />
<line x1="98.15" y1="261.8" x2="98.15" y2="260.3" stroke="#3a3a3a" stroke-width="0.8" />
<line x1="115.45" y1="261.8" x2="115.45" y2="260.3" stroke="#3a3a3a" stroke-width="0.8" />
<line x1="132.75" y1="261.8" x2="132.75" y2="260.3" stroke="#3a3a3a" stroke-width="0.8" />
<line x1="29.5" y1="249.85" x2="32.1" y2="249.85" stroke="#3a3a3a" stroke-width="0.8" />
<text x="26.9" y="252.11" font-size="7.3" text-anchor="end" fill="#1a1a1a" stroke="#1a1a1a" stroke-width="0.22" font-weight="normal" font-style="normal" >0.5</text>
<line x1="29.5" y1="235.12" x2="32.1" y2="235.12" stroke="#3a3a3a" stroke-width="0.8" />
<text x="26.9" y="237.39" font-size="7.3" text-anchor="end" fill="#1a1a1a" stroke="#1a1a1a" stroke-width="0.22" font-weight="normal" font-style="normal" >1.0</text>
<line x1="29.5" y1="220.4" x2="32.1" y2="220.4" stroke="#3a3a3a" stroke-width="0.8" />
<text x="26.9" y="222.66" font-size="7.3" text-anchor="end" fill="#1a1a1a" stroke="#1a1a1a" stroke-width="0.22" font-weight="normal" font-style="normal" >1.5</text>
<line x1="29.5" y1="205.68" x2="32.1" y2="205.68" stroke="#3a3a3a" stroke-width="0.8" />
<text x="26.9" y="207.94" font-size="7.3" text-anchor="end" fill="#1a1a1a" stroke="#1a1a1a" stroke-width="0.22" font-weight="normal" font-style="normal" >2.0</text>
<line x1="29.5" y1="190.95" x2="32.1" y2="190.95" stroke="#3a3a3a" stroke-width="0.8" />
<text x="26.9" y="193.21" font-size="7.3" text-anchor="end" fill="#1a1a1a" stroke="#1a1a1a" stroke-width="0.22" font-weight="normal" font-style="normal" >2.5</text>
<line x1="29.5" y1="176.22" x2="32.1" y2="176.22" stroke="#3a3a3a" stroke-width="0.8" />
<text x="26.9" y="178.49" font-size="7.3" text-anchor="end" fill="#1a1a1a" stroke="#1a1a1a" stroke-width="0.22" font-weight="normal" font-style="normal" >3.0</text>
<line x1="29.5" y1="161.5" x2="32.1" y2="161.5" stroke="#3a3a3a" stroke-width="0.8" />
<text x="26.9" y="163.76" font-size="7.3" text-anchor="end" fill="#1a1a1a" stroke="#1a1a1a" stroke-width="0.22" font-weight="normal" font-style="normal" >3.5</text>
<line x1="29.5" y1="257.21" x2="31" y2="257.21" stroke="#3a3a3a" stroke-width="0.8" />
<line x1="29.5" y1="242.49" x2="31" y2="242.49" stroke="#3a3a3a" stroke-width="0.8" />
<line x1="29.5" y1="227.76" x2="31" y2="227.76" stroke="#3a3a3a" stroke-width="0.8" />
<line x1="29.5" y1="213.04" x2="31" y2="213.04" stroke="#3a3a3a" stroke-width="0.8" />
<line x1="29.5" y1="198.31" x2="31" y2="198.31" stroke="#3a3a3a" stroke-width="0.8" />
<line x1="29.5" y1="183.59" x2="31" y2="183.59" stroke="#3a3a3a" stroke-width="0.8" />
<line x1="29.5" y1="168.86" x2="31" y2="168.86" stroke="#3a3a3a" stroke-width="0.8" />
<text x="90.3" y="280.2" font-size="9" text-anchor="middle" fill="#1a1a1a" stroke="#1a1a1a" stroke-width="0.22" font-weight="normal" font-style="normal" ><tspan font-style="italic">V</tspan><tspan font-size="5.6" dy="2.2">G</tspan><tspan dy="-2.2"> (V)</tspan></text>
<text x="12.3" y="211.5" font-size="9.4" text-anchor="middle" fill="#1a1a1a" stroke="#1a1a1a" stroke-width="0.22" font-weight="normal" font-style="normal" transform="rotate(-90 12.3 211.5)" ><tspan font-style="italic">R</tspan><tspan font-size="5.5" dy="1.6">s</tspan><tspan dy="-1.6"> (k&#937;/sq)</tspan></text>
<polyline points="37.61,175 66.44,196.2 77.97,204.2 89.5,210.8 106.8,223.4 124.1,234.3 141.39,241.2" fill="none" stroke="#2a2a2a" stroke-width="0.6" stroke-linejoin="round" />
<polyline points="37.61,175.6 66.44,197.4 89.5,212.6 112.56,228.8 141.39,241.8" fill="none" stroke="#2a2a2a" stroke-width="0.6" stroke-linejoin="round" />
<polyline points="37.61,176 66.44,198.2 89.5,214 112.56,230.5 141.39,242.4" fill="none" stroke="#2a2a2a" stroke-width="0.6" stroke-linejoin="round" />
<polyline points="37.61,175.3 66.44,204.6 89.5,222.4 112.56,234.6 141.39,240.6" fill="none" stroke="#2a2a2a" stroke-width="0.6" stroke-linejoin="round" />
<polyline points="37.61,175.8 66.44,206.6 89.5,224.6 112.56,236.2 141.39,241.6" fill="none" stroke="#2a2a2a" stroke-width="0.6" stroke-linejoin="round" />
<polyline points="37.61,176.3 66.44,208.6 89.5,226.8 112.56,237.6 141.39,242.8" fill="none" stroke="#2a2a2a" stroke-width="0.6" stroke-linejoin="round" />
<circle cx="37.61" cy="175" r="1.55" fill="#141414" stroke="#8a8a8a" stroke-width="0.35"/>
<circle cx="66.44" cy="196.2" r="1.55" fill="#141414" stroke="#8a8a8a" stroke-width="0.35"/>
<circle cx="77.97" cy="204.2" r="1.55" fill="#141414" stroke="#8a8a8a" stroke-width="0.35"/>
<circle cx="89.5" cy="210.8" r="1.55" fill="#141414" stroke="#8a8a8a" stroke-width="0.35"/>
<circle cx="106.8" cy="223.4" r="1.55" fill="#141414" stroke="#8a8a8a" stroke-width="0.35"/>
<circle cx="124.1" cy="234.3" r="1.55" fill="#141414" stroke="#8a8a8a" stroke-width="0.35"/>
<circle cx="141.39" cy="241.2" r="1.55" fill="#141414" stroke="#8a8a8a" stroke-width="0.35"/>
<circle cx="37.61" cy="175.6" r="1.55" fill="#141414" stroke="#8a8a8a" stroke-width="0.35"/>
<circle cx="66.44" cy="197.4" r="1.55" fill="#141414" stroke="#8a8a8a" stroke-width="0.35"/>
<circle cx="89.5" cy="212.6" r="1.55" fill="#141414" stroke="#8a8a8a" stroke-width="0.35"/>
<circle cx="112.56" cy="228.8" r="1.55" fill="#141414" stroke="#8a8a8a" stroke-width="0.35"/>
<circle cx="141.39" cy="241.8" r="1.55" fill="#141414" stroke="#8a8a8a" stroke-width="0.35"/>
<circle cx="37.61" cy="176" r="1.55" fill="#141414" stroke="#8a8a8a" stroke-width="0.35"/>
<circle cx="66.44" cy="198.2" r="1.55" fill="#141414" stroke="#8a8a8a" stroke-width="0.35"/>
<circle cx="89.5" cy="214" r="1.55" fill="#141414" stroke="#8a8a8a" stroke-width="0.35"/>
<circle cx="112.56" cy="230.5" r="1.55" fill="#141414" stroke="#8a8a8a" stroke-width="0.35"/>
<circle cx="141.39" cy="242.4" r="1.55" fill="#141414" stroke="#8a8a8a" stroke-width="0.35"/>
<circle cx="37.61" cy="175.3" r="1.55" fill="#141414" stroke="#8a8a8a" stroke-width="0.35"/>
<circle cx="66.44" cy="204.6" r="1.55" fill="#141414" stroke="#8a8a8a" stroke-width="0.35"/>
<circle cx="89.5" cy="222.4" r="1.55" fill="#141414" stroke="#8a8a8a" stroke-width="0.35"/>
<circle cx="112.56" cy="234.6" r="1.55" fill="#141414" stroke="#8a8a8a" stroke-width="0.35"/>
<circle cx="141.39" cy="240.6" r="1.55" fill="#141414" stroke="#8a8a8a" stroke-width="0.35"/>
<circle cx="37.61" cy="175.8" r="1.55" fill="#141414" stroke="#8a8a8a" stroke-width="0.35"/>
<circle cx="66.44" cy="206.6" r="1.55" fill="#141414" stroke="#8a8a8a" stroke-width="0.35"/>
<circle cx="89.5" cy="224.6" r="1.55" fill="#141414" stroke="#8a8a8a" stroke-width="0.35"/>
<circle cx="112.56" cy="236.2" r="1.55" fill="#141414" stroke="#8a8a8a" stroke-width="0.35"/>
<circle cx="141.39" cy="241.6" r="1.55" fill="#141414" stroke="#8a8a8a" stroke-width="0.35"/>
<circle cx="37.61" cy="176.3" r="1.55" fill="#141414" stroke="#8a8a8a" stroke-width="0.35"/>
<circle cx="66.44" cy="208.6" r="1.55" fill="#141414" stroke="#8a8a8a" stroke-width="0.35"/>
<circle cx="89.5" cy="226.8" r="1.55" fill="#141414" stroke="#8a8a8a" stroke-width="0.35"/>
<circle cx="112.56" cy="237.6" r="1.55" fill="#141414" stroke="#8a8a8a" stroke-width="0.35"/>
<circle cx="141.39" cy="242.8" r="1.55" fill="#141414" stroke="#8a8a8a" stroke-width="0.35"/>
<ellipse cx="89.5" cy="212.4" rx="3.3" ry="4" fill="none" stroke="#707070" stroke-width="0.6" stroke-dasharray="0.8 0.7"/>
<ellipse cx="89.5" cy="224.6" rx="3.3" ry="4.4" fill="none" stroke="#707070" stroke-width="0.6" stroke-dasharray="0.8 0.7"/>
<polyline points="89.5,242.8 112.56,245.2 141.39,246.2 112.56,239.5 91,227.6" fill="none" stroke="#3a3af5" stroke-width="0.75" stroke-linejoin="round" />
<circle cx="89.5" cy="242.8" r="1.7" fill="#3a3af5" stroke="none" stroke-width="0.5"/>
<circle cx="112.56" cy="245.2" r="1.7" fill="#3a3af5" stroke="none" stroke-width="0.5"/>
<circle cx="141.39" cy="246.2" r="1.7" fill="#3a3af5" stroke="none" stroke-width="0.5"/>
<circle cx="112.56" cy="239.5" r="1.7" fill="#3a3af5" stroke="none" stroke-width="0.5"/>
<path d="M101.33,245.75 L104.80,244.20 M101.73,241.97 L104.80,244.20 " fill="none" stroke="#3a3af5" stroke-width="0.75" />
<path d="M104.20,232.23 L100.40,232.30 M102.36,235.56 L100.40,232.30 " fill="none" stroke="#3a3af5" stroke-width="0.75" />
<text x="93.8" y="211.2" font-size="9" text-anchor="start" fill="#1a1a1a" stroke="#1a1a1a" stroke-width="0.22" font-weight="normal" font-style="italic" >0<tspan dy="-2.7" font-size="5.5">-</tspan></text>
<text x="77.8" y="231.4" font-size="9" text-anchor="start" fill="#1a1a1a" stroke="#1a1a1a" stroke-width="0.22" font-weight="normal" font-style="italic" >0<tspan dy="-2.7" font-size="5.5">+</tspan></text>
<text x="68.7" y="247.9" font-size="7.6" text-anchor="start" fill="#1a1a1a" stroke="#1a1a1a" stroke-width="0.22" font-weight="normal" font-style="normal" >origin</text>
<text x="101.5" y="255.8" font-size="7.3" text-anchor="start" fill="#3a3af5" stroke="#3a3af5" stroke-width="0.08" font-weight="normal" font-style="normal" >initial run</text>
<text x="147.3" y="171.8" font-size="8.4" text-anchor="end" fill="#1a1a1a" stroke="#1a1a1a" stroke-width="0.22" font-weight="normal" font-style="normal" >4.5 K</text>
<path d="M103.60,227.46 L101.00,227.60 M102.42,229.78 L101.00,227.60 " fill="none" stroke="#222" stroke-width="0.7" />
<rect x="240.3" y="162" width="8" height="99.5" fill="#f5e4fb" stroke="none" stroke-width="1" />
<line x1="244.3" y1="162" x2="244.3" y2="261.5" stroke="#8c8090" stroke-width="0.8" stroke-dasharray="2.4 1.7"/>
<rect x="184.6" y="161.5" width="120.1" height="100.5" fill="none" stroke="#3a3a3a" stroke-width="1" />
<line x1="192.35" y1="262" x2="192.35" y2="259.4" stroke="#3a3a3a" stroke-width="0.8" />
<text x="192.35" y="270.4" font-size="7.3" text-anchor="middle" fill="#1a1a1a" stroke="#1a1a1a" stroke-width="0.22" font-weight="normal" font-style="normal" >-180</text>
<line x1="209.67" y1="262" x2="209.67" y2="259.4" stroke="#3a3a3a" stroke-width="0.8" />
<text x="209.67" y="270.4" font-size="7.3" text-anchor="middle" fill="#1a1a1a" stroke="#1a1a1a" stroke-width="0.22" font-weight="normal" font-style="normal" >-120</text>
<line x1="226.98" y1="262" x2="226.98" y2="259.4" stroke="#3a3a3a" stroke-width="0.8" />
<text x="226.98" y="270.4" font-size="7.3" text-anchor="middle" fill="#1a1a1a" stroke="#1a1a1a" stroke-width="0.22" font-weight="normal" font-style="normal" >-60</text>
<line x1="244.3" y1="262" x2="244.3" y2="259.4" stroke="#3a3a3a" stroke-width="0.8" />
<text x="244.3" y="270.4" font-size="7.3" text-anchor="middle" fill="#1a1a1a" stroke="#1a1a1a" stroke-width="0.22" font-weight="normal" font-style="normal" >0</text>
<line x1="261.62" y1="262" x2="261.62" y2="259.4" stroke="#3a3a3a" stroke-width="0.8" />
<text x="261.62" y="270.4" font-size="7.3" text-anchor="middle" fill="#1a1a1a" stroke="#1a1a1a" stroke-width="0.22" font-weight="normal" font-style="normal" >60</text>
<line x1="278.93" y1="262" x2="278.93" y2="259.4" stroke="#3a3a3a" stroke-width="0.8" />
<text x="278.93" y="270.4" font-size="7.3" text-anchor="middle" fill="#1a1a1a" stroke="#1a1a1a" stroke-width="0.22" font-weight="normal" font-style="normal" >120</text>
<line x1="296.25" y1="262" x2="296.25" y2="259.4" stroke="#3a3a3a" stroke-width="0.8" />
<text x="296.25" y="270.4" font-size="7.3" text-anchor="middle" fill="#1a1a1a" stroke="#1a1a1a" stroke-width="0.22" font-weight="normal" font-style="normal" >180</text>
<line x1="201.01" y1="262" x2="201.01" y2="260.5" stroke="#3a3a3a" stroke-width="0.8" />
<line x1="218.33" y1="262" x2="218.33" y2="260.5" stroke="#3a3a3a" stroke-width="0.8" />
<line x1="235.64" y1="262" x2="235.64" y2="260.5" stroke="#3a3a3a" stroke-width="0.8" />
<line x1="252.96" y1="262" x2="252.96" y2="260.5" stroke="#3a3a3a" stroke-width="0.8" />
<line x1="270.27" y1="262" x2="270.27" y2="260.5" stroke="#3a3a3a" stroke-width="0.8" />
<line x1="287.59" y1="262" x2="287.59" y2="260.5" stroke="#3a3a3a" stroke-width="0.8" />
<line x1="184.6" y1="262" x2="187.2" y2="262" stroke="#3a3a3a" stroke-width="0.8" />
<text x="182" y="264.26" font-size="7.3" text-anchor="end" fill="#1a1a1a" stroke="#1a1a1a" stroke-width="0.22" font-weight="normal" font-style="normal" >1.5</text>
<line x1="184.6" y1="242.53" x2="187.2" y2="242.53" stroke="#3a3a3a" stroke-width="0.8" />
<text x="182" y="244.79" font-size="7.3" text-anchor="end" fill="#1a1a1a" stroke="#1a1a1a" stroke-width="0.22" font-weight="normal" font-style="normal" >1.8</text>
<line x1="184.6" y1="223.06" x2="187.2" y2="223.06" stroke="#3a3a3a" stroke-width="0.8" />
<text x="182" y="225.32" font-size="7.3" text-anchor="end" fill="#1a1a1a" stroke="#1a1a1a" stroke-width="0.22" font-weight="normal" font-style="normal" >2.1</text>
<line x1="184.6" y1="203.59" x2="187.2" y2="203.59" stroke="#3a3a3a" stroke-width="0.8" />
<text x="182" y="205.85" font-size="7.3" text-anchor="end" fill="#1a1a1a" stroke="#1a1a1a" stroke-width="0.22" font-weight="normal" font-style="normal" >2.4</text>
<line x1="184.6" y1="184.12" x2="187.2" y2="184.12" stroke="#3a3a3a" stroke-width="0.8" />
<text x="182" y="186.38" font-size="7.3" text-anchor="end" fill="#1a1a1a" stroke="#1a1a1a" stroke-width="0.22" font-weight="normal" font-style="normal" >2.7</text>
<line x1="184.6" y1="164.65" x2="187.2" y2="164.65" stroke="#3a3a3a" stroke-width="0.8" />
<text x="182" y="166.91" font-size="7.3" text-anchor="end" fill="#1a1a1a" stroke="#1a1a1a" stroke-width="0.22" font-weight="normal" font-style="normal" >3.0</text>
<line x1="184.6" y1="252.27" x2="186.1" y2="252.27" stroke="#3a3a3a" stroke-width="0.8" />
<line x1="184.6" y1="232.8" x2="186.1" y2="232.8" stroke="#3a3a3a" stroke-width="0.8" />
<line x1="184.6" y1="213.32" x2="186.1" y2="213.32" stroke="#3a3a3a" stroke-width="0.8" />
<line x1="184.6" y1="193.86" x2="186.1" y2="193.86" stroke="#3a3a3a" stroke-width="0.8" />
<line x1="184.6" y1="174.38" x2="186.1" y2="174.38" stroke="#3a3a3a" stroke-width="0.8" />
<text x="245" y="280.2" font-size="9" text-anchor="middle" fill="#1a1a1a" stroke="#1a1a1a" stroke-width="0.22" font-weight="normal" font-style="normal" ><tspan font-style="italic">V</tspan><tspan font-size="5.6" dy="2.2">G</tspan><tspan dy="-2.2"> (V)</tspan></text>
<text x="166.4" y="210.6" font-size="9.4" text-anchor="middle" fill="#1a1a1a" stroke="#1a1a1a" stroke-width="0.22" font-weight="normal" font-style="normal" transform="rotate(-90 166.4 210.6)" ><tspan font-style="italic">T</tspan><tspan font-size="5.5" dy="1.6">c</tspan><tspan dy="-1.6"> (K)</tspan></text>
<polyline points="192.35,174.3 221.21,183.8 232.76,190.1 244.3,195.8 261.62,206.7 278.93,219.2 296.25,233.2" fill="none" stroke="#2a2a2a" stroke-width="0.6" stroke-linejoin="round" />
<polyline points="192.35,175.5 221.21,185 244.3,197.3 267.39,210.6 296.25,234.5" fill="none" stroke="#2a2a2a" stroke-width="0.6" stroke-linejoin="round" />
<polyline points="192.35,176.5 221.21,186 244.3,198.7 267.39,213 296.25,235.5" fill="none" stroke="#2a2a2a" stroke-width="0.6" stroke-linejoin="round" />
<polyline points="192.35,174.8 221.21,190 244.3,205.5 267.39,219.6 296.25,236.3" fill="none" stroke="#2a2a2a" stroke-width="0.6" stroke-linejoin="round" />
<polyline points="192.35,175.8 221.21,192.3 244.3,207.6 267.39,221.6 296.25,237.3" fill="none" stroke="#2a2a2a" stroke-width="0.6" stroke-linejoin="round" />
<polyline points="192.35,176.8 221.21,194.5 244.3,209.6 267.39,223.4 296.25,238.3" fill="none" stroke="#2a2a2a" stroke-width="0.6" stroke-linejoin="round" />
<circle cx="192.35" cy="174.3" r="1.55" fill="#141414" stroke="#8a8a8a" stroke-width="0.35"/>
<circle cx="221.21" cy="183.8" r="1.55" fill="#141414" stroke="#8a8a8a" stroke-width="0.35"/>
<circle cx="232.76" cy="190.1" r="1.55" fill="#141414" stroke="#8a8a8a" stroke-width="0.35"/>
<circle cx="244.3" cy="195.8" r="1.55" fill="#141414" stroke="#8a8a8a" stroke-width="0.35"/>
<circle cx="261.62" cy="206.7" r="1.55" fill="#141414" stroke="#8a8a8a" stroke-width="0.35"/>
<circle cx="278.93" cy="219.2" r="1.55" fill="#141414" stroke="#8a8a8a" stroke-width="0.35"/>
<circle cx="296.25" cy="233.2" r="1.55" fill="#141414" stroke="#8a8a8a" stroke-width="0.35"/>
<circle cx="192.35" cy="175.5" r="1.55" fill="#141414" stroke="#8a8a8a" stroke-width="0.35"/>
<circle cx="221.21" cy="185" r="1.55" fill="#141414" stroke="#8a8a8a" stroke-width="0.35"/>
<circle cx="244.3" cy="197.3" r="1.55" fill="#141414" stroke="#8a8a8a" stroke-width="0.35"/>
<circle cx="267.39" cy="210.6" r="1.55" fill="#141414" stroke="#8a8a8a" stroke-width="0.35"/>
<circle cx="296.25" cy="234.5" r="1.55" fill="#141414" stroke="#8a8a8a" stroke-width="0.35"/>
<circle cx="192.35" cy="176.5" r="1.55" fill="#141414" stroke="#8a8a8a" stroke-width="0.35"/>
<circle cx="221.21" cy="186" r="1.55" fill="#141414" stroke="#8a8a8a" stroke-width="0.35"/>
<circle cx="244.3" cy="198.7" r="1.55" fill="#141414" stroke="#8a8a8a" stroke-width="0.35"/>
<circle cx="267.39" cy="213" r="1.55" fill="#141414" stroke="#8a8a8a" stroke-width="0.35"/>
<circle cx="296.25" cy="235.5" r="1.55" fill="#141414" stroke="#8a8a8a" stroke-width="0.35"/>
<circle cx="192.35" cy="174.8" r="1.55" fill="#141414" stroke="#8a8a8a" stroke-width="0.35"/>
<circle cx="221.21" cy="190" r="1.55" fill="#141414" stroke="#8a8a8a" stroke-width="0.35"/>
<circle cx="244.3" cy="205.5" r="1.55" fill="#141414" stroke="#8a8a8a" stroke-width="0.35"/>
<circle cx="267.39" cy="219.6" r="1.55" fill="#141414" stroke="#8a8a8a" stroke-width="0.35"/>
<circle cx="296.25" cy="236.3" r="1.55" fill="#141414" stroke="#8a8a8a" stroke-width="0.35"/>
<circle cx="192.35" cy="175.8" r="1.55" fill="#141414" stroke="#8a8a8a" stroke-width="0.35"/>
<circle cx="221.21" cy="192.3" r="1.55" fill="#141414" stroke="#8a8a8a" stroke-width="0.35"/>
<circle cx="244.3" cy="207.6" r="1.55" fill="#141414" stroke="#8a8a8a" stroke-width="0.35"/>
<circle cx="267.39" cy="221.6" r="1.55" fill="#141414" stroke="#8a8a8a" stroke-width="0.35"/>
<circle cx="296.25" cy="237.3" r="1.55" fill="#141414" stroke="#8a8a8a" stroke-width="0.35"/>
<circle cx="192.35" cy="176.8" r="1.55" fill="#141414" stroke="#8a8a8a" stroke-width="0.35"/>
<circle cx="221.21" cy="194.5" r="1.55" fill="#141414" stroke="#8a8a8a" stroke-width="0.35"/>
<circle cx="244.3" cy="209.6" r="1.55" fill="#141414" stroke="#8a8a8a" stroke-width="0.35"/>
<circle cx="267.39" cy="223.4" r="1.55" fill="#141414" stroke="#8a8a8a" stroke-width="0.35"/>
<circle cx="296.25" cy="238.3" r="1.55" fill="#141414" stroke="#8a8a8a" stroke-width="0.35"/>
<ellipse cx="244.3" cy="197.6" rx="3.3" ry="4.2" fill="none" stroke="#707070" stroke-width="0.6" stroke-dasharray="0.8 0.7"/>
<ellipse cx="244.3" cy="207.8" rx="3.3" ry="4.6" fill="none" stroke="#707070" stroke-width="0.6" stroke-dasharray="0.8 0.7"/>
<polyline points="244.3,237 267.39,242.5 296.25,244.7 267.39,229.5 245.9,210.1" fill="none" stroke="#3a3af5" stroke-width="0.75" stroke-linejoin="round" />
<circle cx="244.3" cy="237" r="1.7" fill="#3a3af5" stroke="none" stroke-width="0.5"/>
<circle cx="267.39" cy="242.5" r="1.7" fill="#3a3af5" stroke="none" stroke-width="0.5"/>
<circle cx="296.25" cy="244.7" r="1.7" fill="#3a3af5" stroke="none" stroke-width="0.5"/>
<circle cx="267.39" cy="229.5" r="1.7" fill="#3a3af5" stroke="none" stroke-width="0.5"/>
<path d="M255.67,241.41 L259.30,240.30 M256.52,237.71 L259.30,240.30 " fill="none" stroke="#3a3af5" stroke-width="0.75" />
<path d="M261.22,221.39 L257.50,220.60 M258.67,224.21 L257.50,220.60 " fill="none" stroke="#3a3af5" stroke-width="0.75" />
<text x="249.8" y="195.4" font-size="9" text-anchor="start" fill="#1a1a1a" stroke="#1a1a1a" stroke-width="0.22" font-weight="normal" font-style="italic" >0<tspan dy="-2.7" font-size="5.5">-</tspan></text>
<text x="232.5" y="219.4" font-size="9" text-anchor="start" fill="#1a1a1a" stroke="#1a1a1a" stroke-width="0.22" font-weight="normal" font-style="italic" >0<tspan dy="-2.7" font-size="5.5">+</tspan></text>
<text x="222.3" y="240.5" font-size="7.6" text-anchor="start" fill="#1a1a1a" stroke="#1a1a1a" stroke-width="0.22" font-weight="normal" font-style="normal" >origin</text>
<text x="256.4" y="254.2" font-size="7.3" text-anchor="start" fill="#3a3af5" stroke="#3a3af5" stroke-width="0.08" font-weight="normal" font-style="normal" >initial run</text>
<path d="M233.20,190.85 L235.80,190.80 M234.46,188.57 L235.80,190.80 " fill="none" stroke="#222" stroke-width="0.7" />
<path d="M262.79,214.98 L260.20,214.80 M261.34,217.14 L260.20,214.80 " fill="none" stroke="#222" stroke-width="0.7" />
<rect x="394.3" y="160.5" width="8" height="101.1" fill="#f5e4fb" stroke="none" stroke-width="1" />
<line x1="398.3" y1="160.5" x2="398.3" y2="261.6" stroke="#8c8090" stroke-width="0.8" stroke-dasharray="2.4 1.7"/>
<rect x="337" y="160" width="123" height="102.1" fill="none" stroke="#3a3a3a" stroke-width="1" />
<line x1="346.15" y1="262.1" x2="346.15" y2="259.5" stroke="#3a3a3a" stroke-width="0.8" />
<text x="346.15" y="270.5" font-size="7.3" text-anchor="middle" fill="#1a1a1a" stroke="#1a1a1a" stroke-width="0.22" font-weight="normal" font-style="normal" >-180</text>
<line x1="363.54" y1="262.1" x2="363.54" y2="259.5" stroke="#3a3a3a" stroke-width="0.8" />
<text x="363.54" y="270.5" font-size="7.3" text-anchor="middle" fill="#1a1a1a" stroke="#1a1a1a" stroke-width="0.22" font-weight="normal" font-style="normal" >-120</text>
<line x1="380.92" y1="262.1" x2="380.92" y2="259.5" stroke="#3a3a3a" stroke-width="0.8" />
<text x="380.92" y="270.5" font-size="7.3" text-anchor="middle" fill="#1a1a1a" stroke="#1a1a1a" stroke-width="0.22" font-weight="normal" font-style="normal" >-60</text>
<line x1="398.3" y1="262.1" x2="398.3" y2="259.5" stroke="#3a3a3a" stroke-width="0.8" />
<text x="398.3" y="270.5" font-size="7.3" text-anchor="middle" fill="#1a1a1a" stroke="#1a1a1a" stroke-width="0.22" font-weight="normal" font-style="normal" >0</text>
<line x1="415.68" y1="262.1" x2="415.68" y2="259.5" stroke="#3a3a3a" stroke-width="0.8" />
<text x="415.68" y="270.5" font-size="7.3" text-anchor="middle" fill="#1a1a1a" stroke="#1a1a1a" stroke-width="0.22" font-weight="normal" font-style="normal" >60</text>
<line x1="433.06" y1="262.1" x2="433.06" y2="259.5" stroke="#3a3a3a" stroke-width="0.8" />
<text x="433.06" y="270.5" font-size="7.3" text-anchor="middle" fill="#1a1a1a" stroke="#1a1a1a" stroke-width="0.22" font-weight="normal" font-style="normal" >120</text>
<line x1="450.45" y1="262.1" x2="450.45" y2="259.5" stroke="#3a3a3a" stroke-width="0.8" />
<text x="450.45" y="270.5" font-size="7.3" text-anchor="middle" fill="#1a1a1a" stroke="#1a1a1a" stroke-width="0.22" font-weight="normal" font-style="normal" >180</text>
<line x1="354.85" y1="262.1" x2="354.85" y2="260.6" stroke="#3a3a3a" stroke-width="0.8" />
<line x1="372.23" y1="262.1" x2="372.23" y2="260.6" stroke="#3a3a3a" stroke-width="0.8" />
<line x1="389.61" y1="262.1" x2="389.61" y2="260.6" stroke="#3a3a3a" stroke-width="0.8" />
<line x1="406.99" y1="262.1" x2="406.99" y2="260.6" stroke="#3a3a3a" stroke-width="0.8" />
<line x1="424.37" y1="262.1" x2="424.37" y2="260.6" stroke="#3a3a3a" stroke-width="0.8" />
<line x1="441.75" y1="262.1" x2="441.75" y2="260.6" stroke="#3a3a3a" stroke-width="0.8" />
<line x1="337" y1="245.5" x2="339.6" y2="245.5" stroke="#3a3a3a" stroke-width="0.8" />
<text x="334.4" y="247.76" font-size="7.3" text-anchor="end" fill="#1a1a1a" stroke="#1a1a1a" stroke-width="0.22" font-weight="normal" font-style="normal" >30</text>
<line x1="337" y1="224.75" x2="339.6" y2="224.75" stroke="#3a3a3a" stroke-width="0.8" />
<text x="334.4" y="227.01" font-size="7.3" text-anchor="end" fill="#1a1a1a" stroke="#1a1a1a" stroke-width="0.22" font-weight="normal" font-style="normal" >60</text>
<line x1="337" y1="204" x2="339.6" y2="204" stroke="#3a3a3a" stroke-width="0.8" />
<text x="334.4" y="206.26" font-size="7.3" text-anchor="end" fill="#1a1a1a" stroke="#1a1a1a" stroke-width="0.22" font-weight="normal" font-style="normal" >90</text>
<line x1="337" y1="183.25" x2="339.6" y2="183.25" stroke="#3a3a3a" stroke-width="0.8" />
<text x="334.4" y="185.51" font-size="7.3" text-anchor="end" fill="#1a1a1a" stroke="#1a1a1a" stroke-width="0.22" font-weight="normal" font-style="normal" >120</text>
<line x1="337" y1="162.5" x2="339.6" y2="162.5" stroke="#3a3a3a" stroke-width="0.8" />
<text x="334.4" y="164.76" font-size="7.3" text-anchor="end" fill="#1a1a1a" stroke="#1a1a1a" stroke-width="0.22" font-weight="normal" font-style="normal" >150</text>
<line x1="337" y1="255.88" x2="338.5" y2="255.88" stroke="#3a3a3a" stroke-width="0.8" />
<line x1="337" y1="235.12" x2="338.5" y2="235.12" stroke="#3a3a3a" stroke-width="0.8" />
<line x1="337" y1="214.37" x2="338.5" y2="214.37" stroke="#3a3a3a" stroke-width="0.8" />
<line x1="337" y1="193.62" x2="338.5" y2="193.62" stroke="#3a3a3a" stroke-width="0.8" />
<line x1="337" y1="172.87" x2="338.5" y2="172.87" stroke="#3a3a3a" stroke-width="0.8" />
<text x="399" y="280.2" font-size="9" text-anchor="middle" fill="#1a1a1a" stroke="#1a1a1a" stroke-width="0.22" font-weight="normal" font-style="normal" ><tspan font-style="italic">V</tspan><tspan font-size="5.6" dy="2.2">G</tspan><tspan dy="-2.2"> (V)</tspan></text>
<text x="320.6" y="203" font-size="9.4" text-anchor="middle" fill="#1a1a1a" stroke="#1a1a1a" stroke-width="0.22" font-weight="normal" font-style="normal" transform="rotate(-90 320.6 203)" ><tspan font-style="italic">&#956;</tspan> (cm<tspan font-size="5.5" dy="-2.5">2</tspan><tspan dy="2.5"> V</tspan><tspan font-size="5.5" dy="-2.5">-1</tspan><tspan dy="2.5"> s</tspan><tspan font-size="5.5" dy="-2.5">-1</tspan><tspan dy="2.5">)</tspan></text>
<polyline points="346.15,250.5 375.12,239.2 398.3,224.4 421.48,208.6 450.45,190.6" fill="none" stroke="#2a2a2a" stroke-width="0.6" stroke-linejoin="round" />
<polyline points="346.15,250.5 375.12,240.2 398.3,226.3 421.48,210.5 450.45,192.5" fill="none" stroke="#2a2a2a" stroke-width="0.6" stroke-linejoin="round" />
<polyline points="346.15,250.8 375.12,241.2 398.3,228.2 421.48,212.4 450.45,194.4" fill="none" stroke="#2a2a2a" stroke-width="0.6" stroke-linejoin="round" />
<polyline points="346.15,250.5 375.12,246.5 386.71,242.1 398.3,235.6 415.68,227.6 433.06,217.2 450.45,196" fill="none" stroke="#2a2a2a" stroke-width="0.6" stroke-linejoin="round" />
<polyline points="346.15,250.8 375.12,247 398.3,237.6 421.48,223.5 450.45,195.4" fill="none" stroke="#2a2a2a" stroke-width="0.6" stroke-linejoin="round" />
<polyline points="346.15,251 375.12,247.5 398.3,239.4 421.48,227.2 450.45,196.6" fill="none" stroke="#2a2a2a" stroke-width="0.6" stroke-linejoin="round" />
<circle cx="346.15" cy="250.5" r="1.55" fill="#141414" stroke="#8a8a8a" stroke-width="0.35"/>
<circle cx="375.12" cy="239.2" r="1.55" fill="#141414" stroke="#8a8a8a" stroke-width="0.35"/>
<circle cx="398.3" cy="224.4" r="1.55" fill="#141414" stroke="#8a8a8a" stroke-width="0.35"/>
<circle cx="421.48" cy="208.6" r="1.55" fill="#141414" stroke="#8a8a8a" stroke-width="0.35"/>
<circle cx="450.45" cy="190.6" r="1.55" fill="#141414" stroke="#8a8a8a" stroke-width="0.35"/>
<circle cx="375.12" cy="240.2" r="1.55" fill="#141414" stroke="#8a8a8a" stroke-width="0.35"/>
<circle cx="398.3" cy="226.3" r="1.55" fill="#141414" stroke="#8a8a8a" stroke-width="0.35"/>
<circle cx="421.48" cy="210.5" r="1.55" fill="#141414" stroke="#8a8a8a" stroke-width="0.35"/>
<circle cx="450.45" cy="192.5" r="1.55" fill="#141414" stroke="#8a8a8a" stroke-width="0.35"/>
<circle cx="346.15" cy="250.8" r="1.55" fill="#141414" stroke="#8a8a8a" stroke-width="0.35"/>
<circle cx="375.12" cy="241.2" r="1.55" fill="#141414" stroke="#8a8a8a" stroke-width="0.35"/>
<circle cx="398.3" cy="228.2" r="1.55" fill="#141414" stroke="#8a8a8a" stroke-width="0.35"/>
<circle cx="421.48" cy="212.4" r="1.55" fill="#141414" stroke="#8a8a8a" stroke-width="0.35"/>
<circle cx="450.45" cy="194.4" r="1.55" fill="#141414" stroke="#8a8a8a" stroke-width="0.35"/>
<circle cx="375.12" cy="246.5" r="1.55" fill="#141414" stroke="#8a8a8a" stroke-width="0.35"/>
<circle cx="386.71" cy="242.1" r="1.55" fill="#141414" stroke="#8a8a8a" stroke-width="0.35"/>
<circle cx="398.3" cy="235.6" r="1.55" fill="#141414" stroke="#8a8a8a" stroke-width="0.35"/>
<circle cx="415.68" cy="227.6" r="1.55" fill="#141414" stroke="#8a8a8a" stroke-width="0.35"/>
<circle cx="433.06" cy="217.2" r="1.55" fill="#141414" stroke="#8a8a8a" stroke-width="0.35"/>
<circle cx="450.45" cy="196" r="1.55" fill="#141414" stroke="#8a8a8a" stroke-width="0.35"/>
<circle cx="375.12" cy="247" r="1.55" fill="#141414" stroke="#8a8a8a" stroke-width="0.35"/>
<circle cx="398.3" cy="237.6" r="1.55" fill="#141414" stroke="#8a8a8a" stroke-width="0.35"/>
<circle cx="421.48" cy="223.5" r="1.55" fill="#141414" stroke="#8a8a8a" stroke-width="0.35"/>
<circle cx="450.45" cy="195.4" r="1.55" fill="#141414" stroke="#8a8a8a" stroke-width="0.35"/>
<circle cx="346.15" cy="251" r="1.55" fill="#141414" stroke="#8a8a8a" stroke-width="0.35"/>
<circle cx="375.12" cy="247.5" r="1.55" fill="#141414" stroke="#8a8a8a" stroke-width="0.35"/>
<circle cx="398.3" cy="239.4" r="1.55" fill="#141414" stroke="#8a8a8a" stroke-width="0.35"/>
<circle cx="421.48" cy="227.2" r="1.55" fill="#141414" stroke="#8a8a8a" stroke-width="0.35"/>
<circle cx="450.45" cy="196.6" r="1.55" fill="#141414" stroke="#8a8a8a" stroke-width="0.35"/>
<ellipse cx="398.3" cy="226.3" rx="3.3" ry="3.8" fill="none" stroke="#707070" stroke-width="0.6" stroke-dasharray="0.8 0.7"/>
<ellipse cx="398.3" cy="237.6" rx="3.3" ry="3.6" fill="none" stroke="#707070" stroke-width="0.6" stroke-dasharray="0.8 0.7"/>
<polyline points="398.3,191.2 421.48,179 450.45,172.5 421.48,202.3 399.8,224.6" fill="none" stroke="#3a3af5" stroke-width="0.75" stroke-linejoin="round" />
<circle cx="398.3" cy="191.2" r="1.7" fill="#3a3af5" stroke="none" stroke-width="0.5"/>
<circle cx="421.48" cy="179" r="1.7" fill="#3a3af5" stroke="none" stroke-width="0.5"/>
<circle cx="450.45" cy="172.5" r="1.7" fill="#3a3af5" stroke="none" stroke-width="0.5"/>
<circle cx="421.48" cy="202.3" r="1.7" fill="#3a3af5" stroke="none" stroke-width="0.5"/>
<path d="M415.27,184.51 L417.30,181.30 M413.50,181.15 L417.30,181.30 " fill="none" stroke="#3a3af5" stroke-width="0.75" />
<path d="M406.32,215.11 L405.40,218.80 M409.05,217.75 L405.40,218.80 " fill="none" stroke="#3a3af5" stroke-width="0.75" />
<text x="386.5" y="228.3" font-size="9" text-anchor="start" fill="#1a1a1a" stroke="#1a1a1a" stroke-width="0.22" font-weight="normal" font-style="italic" >0<tspan dy="-2.7" font-size="5.5">+</tspan></text>
<text x="403.8" y="245.8" font-size="9" text-anchor="start" fill="#1a1a1a" stroke="#1a1a1a" stroke-width="0.22" font-weight="normal" font-style="italic" >0<tspan dy="-2.7" font-size="5.5">-</tspan></text>
<text x="376.9" y="193.3" font-size="7.6" text-anchor="start" fill="#1a1a1a" stroke="#1a1a1a" stroke-width="0.22" font-weight="normal" font-style="normal" >origin</text>
<text x="408" y="170.9" font-size="7.3" text-anchor="start" fill="#3a3af5" stroke="#3a3af5" stroke-width="0.08" font-weight="normal" font-style="normal" >initial run</text>
<text x="341.2" y="170.3" font-size="8.4" text-anchor="start" fill="#1a1a1a" stroke="#1a1a1a" stroke-width="0.22" font-weight="normal" font-style="normal" >4.5 K</text>
<path d="M411.60,230.65 L412.90,228.40 M410.30,228.40 L412.90,228.40 " fill="none" stroke="#222" stroke-width="0.7" />
<rect x="498" y="16.5" width="90" height="240.7" fill="none" stroke="#3a3a3a" stroke-width="1" />
<line x1="540.15" y1="17" x2="540.15" y2="256.7" stroke="#bbb" stroke-width="0.6" stroke-dasharray="1 1.2"/>
<line x1="504.29" y1="257.2" x2="504.29" y2="254.8" stroke="#3a3a3a" stroke-width="0.8" />
<text x="504.29" y="266.1" font-size="7.1" text-anchor="middle" fill="#1a1a1a" stroke="#1a1a1a" stroke-width="0.22" font-weight="normal" font-style="normal" >-180</text>
<line x1="522.22" y1="257.2" x2="522.22" y2="254.8" stroke="#3a3a3a" stroke-width="0.8" />
<text x="522.22" y="266.1" font-size="7.1" text-anchor="middle" fill="#1a1a1a" stroke="#1a1a1a" stroke-width="0.22" font-weight="normal" font-style="normal" >-90</text>
<line x1="540.15" y1="257.2" x2="540.15" y2="254.8" stroke="#3a3a3a" stroke-width="0.8" />
<text x="540.15" y="266.1" font-size="7.1" text-anchor="middle" fill="#1a1a1a" stroke="#1a1a1a" stroke-width="0.22" font-weight="normal" font-style="normal" >0</text>
<line x1="558.08" y1="257.2" x2="558.08" y2="254.8" stroke="#3a3a3a" stroke-width="0.8" />
<text x="558.08" y="266.1" font-size="7.1" text-anchor="middle" fill="#1a1a1a" stroke="#1a1a1a" stroke-width="0.22" font-weight="normal" font-style="normal" >90</text>
<line x1="576.01" y1="257.2" x2="576.01" y2="254.8" stroke="#3a3a3a" stroke-width="0.8" />
<text x="576.01" y="266.1" font-size="7.1" text-anchor="middle" fill="#1a1a1a" stroke="#1a1a1a" stroke-width="0.22" font-weight="normal" font-style="normal" >180</text>
<line x1="513.26" y1="257.2" x2="513.26" y2="255.8" stroke="#3a3a3a" stroke-width="0.8" />
<line x1="531.19" y1="257.2" x2="531.19" y2="255.8" stroke="#3a3a3a" stroke-width="0.8" />
<line x1="549.11" y1="257.2" x2="549.11" y2="255.8" stroke="#3a3a3a" stroke-width="0.8" />
<line x1="567.04" y1="257.2" x2="567.04" y2="255.8" stroke="#3a3a3a" stroke-width="0.8" />
<line x1="498" y1="238" x2="500.4" y2="238" stroke="#3a3a3a" stroke-width="0.8" />
<text x="495.4" y="240.6" font-size="7.1" text-anchor="end" fill="#1a1a1a" stroke="#1a1a1a" stroke-width="0.22" font-weight="normal" font-style="normal" >0</text>
<line x1="498" y1="210.31" x2="500.4" y2="210.31" stroke="#3a3a3a" stroke-width="0.8" />
<text x="495.4" y="212.91" font-size="7.1" text-anchor="end" fill="#1a1a1a" stroke="#1a1a1a" stroke-width="0.22" font-weight="normal" font-style="normal" >100</text>
<line x1="498" y1="182.62" x2="500.4" y2="182.62" stroke="#3a3a3a" stroke-width="0.8" />
<text x="495.4" y="185.22" font-size="7.1" text-anchor="end" fill="#1a1a1a" stroke="#1a1a1a" stroke-width="0.22" font-weight="normal" font-style="normal" >200</text>
<line x1="498" y1="154.93" x2="500.4" y2="154.93" stroke="#3a3a3a" stroke-width="0.8" />
<text x="495.4" y="157.53" font-size="7.1" text-anchor="end" fill="#1a1a1a" stroke="#1a1a1a" stroke-width="0.22" font-weight="normal" font-style="normal" >300</text>
<line x1="498" y1="127.24" x2="500.4" y2="127.24" stroke="#3a3a3a" stroke-width="0.8" />
<text x="495.4" y="129.84" font-size="7.1" text-anchor="end" fill="#1a1a1a" stroke="#1a1a1a" stroke-width="0.22" font-weight="normal" font-style="normal" >400</text>
<line x1="498" y1="99.55" x2="500.4" y2="99.55" stroke="#3a3a3a" stroke-width="0.8" />
<text x="495.4" y="102.15" font-size="7.1" text-anchor="end" fill="#1a1a1a" stroke="#1a1a1a" stroke-width="0.22" font-weight="normal" font-style="normal" >500</text>
<line x1="498" y1="71.86" x2="500.4" y2="71.86" stroke="#3a3a3a" stroke-width="0.8" />
<text x="495.4" y="74.46" font-size="7.1" text-anchor="end" fill="#1a1a1a" stroke="#1a1a1a" stroke-width="0.22" font-weight="normal" font-style="normal" >600</text>
<line x1="498" y1="44.17" x2="500.4" y2="44.17" stroke="#3a3a3a" stroke-width="0.8" />
<text x="495.4" y="46.77" font-size="7.1" text-anchor="end" fill="#1a1a1a" stroke="#1a1a1a" stroke-width="0.22" font-weight="normal" font-style="normal" >700</text>
<line x1="498" y1="16.48" x2="500.4" y2="16.48" stroke="#3a3a3a" stroke-width="0.8" />
<text x="495.4" y="19.08" font-size="7.1" text-anchor="end" fill="#1a1a1a" stroke="#1a1a1a" stroke-width="0.22" font-weight="normal" font-style="normal" >800</text>
<line x1="498" y1="224.16" x2="499.4" y2="224.16" stroke="#3a3a3a" stroke-width="0.8" />
<line x1="498" y1="196.47" x2="499.4" y2="196.47" stroke="#3a3a3a" stroke-width="0.8" />
<line x1="498" y1="168.78" x2="499.4" y2="168.78" stroke="#3a3a3a" stroke-width="0.8" />
<line x1="498" y1="141.09" x2="499.4" y2="141.09" stroke="#3a3a3a" stroke-width="0.8" />
<line x1="498" y1="113.4" x2="499.4" y2="113.4" stroke="#3a3a3a" stroke-width="0.8" />
<line x1="498" y1="85.71" x2="499.4" y2="85.71" stroke="#3a3a3a" stroke-width="0.8" />
<line x1="498" y1="58.02" x2="499.4" y2="58.02" stroke="#3a3a3a" stroke-width="0.8" />
<line x1="498" y1="30.33" x2="499.4" y2="30.33" stroke="#3a3a3a" stroke-width="0.8" />
<text x="543" y="278.6" font-size="9" text-anchor="middle" fill="#1a1a1a" stroke="#1a1a1a" stroke-width="0.22" font-weight="normal" font-style="normal" ><tspan font-style="italic">V</tspan><tspan font-size="5.6" dy="2.2">G</tspan><tspan dy="-2.2"> (V)</tspan></text>
<rect x="593" y="16.5" width="89.4" height="240.7" fill="none" stroke="#3a3a3a" stroke-width="1" />
<line x1="634.6" y1="17" x2="634.6" y2="256.7" stroke="#bbb" stroke-width="0.6" stroke-dasharray="1 1.2"/>
<line x1="598.49" y1="257.2" x2="598.49" y2="254.8" stroke="#3a3a3a" stroke-width="0.8" />
<text x="598.49" y="266.1" font-size="7.1" text-anchor="middle" fill="#1a1a1a" stroke="#1a1a1a" stroke-width="0.22" font-weight="normal" font-style="normal" >-180</text>
<line x1="616.55" y1="257.2" x2="616.55" y2="254.8" stroke="#3a3a3a" stroke-width="0.8" />
<text x="616.55" y="266.1" font-size="7.1" text-anchor="middle" fill="#1a1a1a" stroke="#1a1a1a" stroke-width="0.22" font-weight="normal" font-style="normal" >-90</text>
<line x1="634.6" y1="257.2" x2="634.6" y2="254.8" stroke="#3a3a3a" stroke-width="0.8" />
<text x="634.6" y="266.1" font-size="7.1" text-anchor="middle" fill="#1a1a1a" stroke="#1a1a1a" stroke-width="0.22" font-weight="normal" font-style="normal" >0</text>
<line x1="652.65" y1="257.2" x2="652.65" y2="254.8" stroke="#3a3a3a" stroke-width="0.8" />
<text x="652.65" y="266.1" font-size="7.1" text-anchor="middle" fill="#1a1a1a" stroke="#1a1a1a" stroke-width="0.22" font-weight="normal" font-style="normal" >90</text>
<line x1="670.71" y1="257.2" x2="670.71" y2="254.8" stroke="#3a3a3a" stroke-width="0.8" />
<text x="670.71" y="266.1" font-size="7.1" text-anchor="middle" fill="#1a1a1a" stroke="#1a1a1a" stroke-width="0.22" font-weight="normal" font-style="normal" >180</text>
<line x1="607.52" y1="257.2" x2="607.52" y2="255.8" stroke="#3a3a3a" stroke-width="0.8" />
<line x1="625.57" y1="257.2" x2="625.57" y2="255.8" stroke="#3a3a3a" stroke-width="0.8" />
<line x1="643.63" y1="257.2" x2="643.63" y2="255.8" stroke="#3a3a3a" stroke-width="0.8" />
<line x1="661.68" y1="257.2" x2="661.68" y2="255.8" stroke="#3a3a3a" stroke-width="0.8" />
<line x1="593" y1="238" x2="595.4" y2="238" stroke="#3a3a3a" stroke-width="0.8" />
<line x1="593" y1="210.31" x2="595.4" y2="210.31" stroke="#3a3a3a" stroke-width="0.8" />
<line x1="593" y1="182.62" x2="595.4" y2="182.62" stroke="#3a3a3a" stroke-width="0.8" />
<line x1="593" y1="154.93" x2="595.4" y2="154.93" stroke="#3a3a3a" stroke-width="0.8" />
<line x1="593" y1="127.24" x2="595.4" y2="127.24" stroke="#3a3a3a" stroke-width="0.8" />
<line x1="593" y1="99.55" x2="595.4" y2="99.55" stroke="#3a3a3a" stroke-width="0.8" />
<line x1="593" y1="71.86" x2="595.4" y2="71.86" stroke="#3a3a3a" stroke-width="0.8" />
<line x1="593" y1="44.17" x2="595.4" y2="44.17" stroke="#3a3a3a" stroke-width="0.8" />
<line x1="593" y1="16.48" x2="595.4" y2="16.48" stroke="#3a3a3a" stroke-width="0.8" />
<line x1="593" y1="224.16" x2="594.4" y2="224.16" stroke="#3a3a3a" stroke-width="0.8" />
<line x1="593" y1="196.47" x2="594.4" y2="196.47" stroke="#3a3a3a" stroke-width="0.8" />
<line x1="593" y1="168.78" x2="594.4" y2="168.78" stroke="#3a3a3a" stroke-width="0.8" />
<line x1="593" y1="141.09" x2="594.4" y2="141.09" stroke="#3a3a3a" stroke-width="0.8" />
<line x1="593" y1="113.4" x2="594.4" y2="113.4" stroke="#3a3a3a" stroke-width="0.8" />
<line x1="593" y1="85.71" x2="594.4" y2="85.71" stroke="#3a3a3a" stroke-width="0.8" />
<line x1="593" y1="58.02" x2="594.4" y2="58.02" stroke="#3a3a3a" stroke-width="0.8" />
<line x1="593" y1="30.33" x2="594.4" y2="30.33" stroke="#3a3a3a" stroke-width="0.8" />
<text x="637.7" y="278.6" font-size="9" text-anchor="middle" fill="#1a1a1a" stroke="#1a1a1a" stroke-width="0.22" font-weight="normal" font-style="normal" ><tspan font-style="italic">V</tspan><tspan font-size="5.6" dy="2.2">G</tspan><tspan dy="-2.2"> (V)</tspan></text>
<text x="477.5" y="133" font-size="8.6" text-anchor="middle" fill="#1a1a1a" stroke="#1a1a1a" stroke-width="0.22" font-weight="normal" font-style="normal" transform="rotate(-90 477.5 133)" >(<tspan font-style="italic">R</tspan><tspan font-size="5.5" dy="1.6">s</tspan><tspan dy="-1.6">(</tspan><tspan font-style="italic">V</tspan><tspan font-size="5.5" dy="1.6">G</tspan><tspan dy="-1.6">)-</tspan><tspan font-style="italic">R</tspan><tspan font-size="5.5" dy="1.6">s</tspan><tspan dy="-1.6">(0))/</tspan><tspan font-style="italic">R</tspan><tspan font-size="5.5" dy="1.6">s</tspan><tspan dy="-1.6">(0) (%)</tspan></text>
<path d="M504.29,30.90 C516.38,31.13 564.72,32.07 576.80,32.30" fill="none" stroke="#ee4fa8" stroke-width="1.75" stroke-dasharray="1.05 0.4"/>
<path d="M504.29,46.00 C516.38,46.23 564.72,47.17 576.80,47.40" fill="none" stroke="#f24a5a" stroke-width="1.75" stroke-dasharray="1.05 0.4"/>
<path d="M504.29,63.20 C516.38,63.48 564.72,64.62 576.80,64.90" fill="none" stroke="#f2844a" stroke-width="1.75" stroke-dasharray="1.05 0.4"/>
<path d="M504.29,79.30 C516.38,79.65 564.72,81.05 576.80,81.40" fill="none" stroke="#e3a64a" stroke-width="1.75" stroke-dasharray="1.05 0.4"/>
<path d="M504.29,97.00 C510.27,97.42 528.20,98.73 540.15,99.50 C552.10,100.27 570.03,101.25 576.01,101.60" fill="none" stroke="#4ae04a" stroke-width="1.75" stroke-dasharray="1.05 0.4"/>
<path d="M504.29,118.70 C507.28,118.97 516.25,119.50 522.22,120.30 C528.20,121.10 534.17,122.48 540.15,123.50 C546.13,124.52 552.10,125.45 558.08,126.40 C564.05,127.35 573.02,128.73 576.01,129.20" fill="none" stroke="#55e09a" stroke-width="1.75" stroke-dasharray="1.05 0.4"/>
<path d="M504.29,119.10 C507.28,119.68 516.25,121.33 522.22,122.60 C528.20,123.87 534.17,125.72 540.15,126.70 C546.13,127.68 552.10,127.93 558.08,128.50 C564.05,129.07 573.02,129.83 576.01,130.10" fill="none" stroke="#55e09a" stroke-width="1.75" stroke-dasharray="1.05 0.4"/>
<path d="M504.29,143.80 C505.62,143.88 509.27,143.85 512.26,144.30 C515.25,144.75 517.57,145.18 522.22,146.50 C526.87,147.82 534.17,150.28 540.15,152.20 C546.13,154.12 552.10,155.90 558.08,158.00 C564.05,160.10 573.02,163.67 576.01,164.80" fill="none" stroke="#5ab4f2" stroke-width="1.75" stroke-dasharray="1.05 0.4"/>
<path d="M504.29,144.20 C505.62,144.78 509.27,146.55 512.26,147.70 C515.25,148.85 517.57,149.20 522.22,151.10 C526.87,153.00 534.17,157.12 540.15,159.10 C546.13,161.08 552.10,161.93 558.08,163.00 C564.05,164.07 573.02,165.08 576.01,165.50" fill="none" stroke="#5ab4f2" stroke-width="1.75" stroke-dasharray="1.05 0.4"/>
<path d="M504.29,171.10 C505.32,171.32 507.68,171.52 510.47,172.40 C513.26,173.28 517.51,174.72 521.03,176.40 C524.55,178.08 528.36,180.45 531.58,182.50 C534.80,184.55 537.13,186.50 540.35,188.70 C543.57,190.90 547.69,193.65 550.91,195.70 C554.13,197.75 555.49,198.53 559.67,201.00 C563.85,203.47 573.28,208.92 576.01,210.50" fill="none" stroke="#4848e8" stroke-width="1.75" stroke-dasharray="1.05 0.4"/>
<path d="M504.29,171.10 C505.02,171.83 507.05,173.60 508.68,175.50 C510.30,177.40 512.00,180.15 514.05,182.50 C516.11,184.85 518.40,187.10 521.03,189.60 C523.65,192.10 526.57,195.02 529.79,197.50 C533.01,199.98 537.13,202.83 540.35,204.50 C543.57,206.17 545.89,206.42 549.11,207.50 C552.33,208.58 555.19,210.05 559.67,211.00 C564.15,211.95 573.28,212.83 576.01,213.20" fill="none" stroke="#4848e8" stroke-width="1.75" stroke-dasharray="1.05 0.4"/>
<path d="M540.35,204.50 C541.81,204.67 545.89,204.92 549.11,205.50 C552.33,206.08 555.19,207.05 559.67,208.00 C564.15,208.95 573.28,210.67 576.01,211.20" fill="none" stroke="#4848e8" stroke-width="1.75" stroke-dasharray="1.05 0.4"/>
<path d="M504.29,211.70 C505.32,211.90 507.68,211.97 510.47,212.90 C513.26,213.83 517.51,215.70 521.03,217.30 C524.55,218.90 528.36,220.75 531.58,222.50 C534.80,224.25 537.13,226.13 540.35,227.80 C543.57,229.47 547.69,231.05 550.91,232.50 C554.13,233.95 555.49,234.42 559.67,236.50 C563.85,238.58 573.28,243.58 576.01,245.00" fill="none" stroke="#7a35f0" stroke-width="1.75" stroke-dasharray="1.05 0.4"/>
<path d="M504.29,211.70 C505.02,212.48 507.05,214.60 508.68,216.40 C510.30,218.20 512.00,220.45 514.05,222.50 C516.11,224.55 518.40,226.80 521.03,228.70 C523.65,230.60 526.57,232.35 529.79,233.90 C533.01,235.45 537.13,237.07 540.35,238.00 C543.57,238.93 545.89,238.92 549.11,239.50 C552.33,240.08 555.19,240.50 559.67,241.50 C564.15,242.50 573.28,244.83 576.01,245.50" fill="none" stroke="#7a35f0" stroke-width="1.75" stroke-dasharray="1.05 0.4"/>
<path d="M540.35,238.30 C541.81,238.92 545.89,240.88 549.11,242.00 C552.33,243.12 555.19,244.20 559.67,245.00 C564.15,245.80 573.28,246.50 576.01,246.80" fill="none" stroke="#7a35f0" stroke-width="1.75" stroke-dasharray="1.05 0.4"/>
<text x="578" y="28.8" font-size="6.4" text-anchor="end" fill="#ee4fa8" stroke="#ee4fa8" stroke-width="0.08" font-weight="normal" font-style="normal" >290 K</text>
<text x="578" y="44.8" font-size="6.4" text-anchor="end" fill="#f24a5a" stroke="#f24a5a" stroke-width="0.08" font-weight="normal" font-style="normal" >250 K</text>
<text x="578" y="61" font-size="6.4" text-anchor="end" fill="#f2844a" stroke="#f2844a" stroke-width="0.08" font-weight="normal" font-style="normal" >200 K</text>
<text x="578" y="78" font-size="6.4" text-anchor="end" fill="#e3a64a" stroke="#e3a64a" stroke-width="0.08" font-weight="normal" font-style="normal" >150 K</text>
<text x="578" y="97.8" font-size="6.4" text-anchor="end" fill="#4ae04a" stroke="#4ae04a" stroke-width="0.08" font-weight="normal" font-style="normal" >100 K</text>
<text x="576.3" y="124.8" font-size="6.4" text-anchor="end" fill="#55e09a" stroke="#55e09a" stroke-width="0.08" font-weight="normal" font-style="normal" >50 K</text>
<text x="576.3" y="157.3" font-size="6.4" text-anchor="end" fill="#5ab4f2" stroke="#5ab4f2" stroke-width="0.08" font-weight="normal" font-style="normal" >30 K</text>
<text x="576.2" y="202" font-size="6.4" text-anchor="end" fill="#4848e8" stroke="#4848e8" stroke-width="0.08" font-weight="normal" font-style="normal" >10 K</text>
<text x="576.6" y="237" font-size="6.4" text-anchor="end" fill="#7a35f0" stroke="#7a35f0" stroke-width="0.08" font-weight="normal" font-style="normal" >4.5 K</text>
<line x1="583.2" y1="91.6" x2="583.2" y2="195" stroke="#444" stroke-width="0.9" />
<path d="M583.2,199.8 L581.75,193.6 L584.65,193.6 Z" fill="#333"/>
<text x="548.2" y="223.6" font-size="7.3" text-anchor="start" fill="#1a1a1a" stroke="#1a1a1a" stroke-width="0.22" font-weight="normal" font-style="normal" ><tspan font-style="italic">R</tspan><tspan font-size="5" dy="1.5">s</tspan><tspan dy="-1.5" font-style="italic">(0)</tspan></text>
<line x1="549" y1="225.4" x2="540.8" y2="236.8" stroke="#555" stroke-width="0.6" />
<path d="M540.8,237 L541.82,234.04 L543.28,235.09 Z" fill="#444"/>
<text x="502.4" y="250.7" font-size="9.2" text-anchor="start" fill="#1a1a1a" stroke="#1a1a1a" stroke-width="0.22" font-weight="normal" font-style="normal" >S1_D#</text>
<path d="M598.49,37.60 C610.66,37.95 659.34,39.35 671.51,39.70" fill="none" stroke="#ee4fa8" stroke-width="1.75" stroke-dasharray="1.05 0.4"/>
<path d="M598.49,59.70 C610.66,60.17 659.34,62.03 671.51,62.50" fill="none" stroke="#f24a5a" stroke-width="1.75" stroke-dasharray="1.05 0.4"/>
<path d="M598.49,80.30 C610.66,81.17 659.34,84.63 671.51,85.50" fill="none" stroke="#f2844a" stroke-width="1.75" stroke-dasharray="1.05 0.4"/>
<path d="M598.49,102.70 C610.66,104.07 659.34,109.53 671.51,110.90" fill="none" stroke="#e3a64a" stroke-width="1.75" stroke-dasharray="1.05 0.4"/>
<path d="M598.49,125.30 C604.51,126.05 622.56,127.92 634.60,129.80 C646.64,131.68 664.69,135.47 670.71,136.60" fill="none" stroke="#4ae04a" stroke-width="1.75" stroke-dasharray="1.05 0.4"/>
<path d="M598.49,125.80 C601.50,126.42 610.53,128.30 616.55,129.50 C622.56,130.70 628.58,132.00 634.60,133.00 C640.62,134.00 646.64,134.73 652.65,135.50 C658.67,136.27 667.70,137.25 670.71,137.60" fill="none" stroke="#4ae04a" stroke-width="1.75" stroke-dasharray="1.05 0.4"/>
<path d="M598.49,150.40 C599.83,150.58 603.51,150.85 606.52,151.50 C609.53,152.15 611.87,152.97 616.55,154.30 C621.23,155.63 628.58,157.68 634.60,159.50 C640.62,161.32 646.64,163.30 652.65,165.20 C658.67,167.10 667.70,169.95 670.71,170.90" fill="none" stroke="#55e09a" stroke-width="1.75" stroke-dasharray="1.05 0.4"/>
<path d="M598.49,151.10 C599.83,151.75 603.51,153.78 606.52,155.00 C609.53,156.22 611.87,156.70 616.55,158.40 C621.23,160.10 628.58,163.30 634.60,165.20 C640.62,167.10 646.64,168.47 652.65,169.80 C658.67,171.13 667.70,172.63 670.71,173.20" fill="none" stroke="#55e09a" stroke-width="1.75" stroke-dasharray="1.05 0.4"/>
<path d="M598.49,172.00 C599.09,172.15 600.36,172.17 602.10,172.90 C603.84,173.63 606.32,174.80 608.92,176.40 C611.53,178.00 614.81,180.60 617.75,182.50 C620.69,184.40 623.77,186.03 626.58,187.80 C629.38,189.57 631.69,191.20 634.60,193.10 C637.51,195.00 640.68,197.30 644.03,199.20 C647.37,201.10 650.21,202.03 654.66,204.50 C659.11,206.97 668.03,212.42 670.71,214.00" fill="none" stroke="#5ab4f2" stroke-width="1.75" stroke-dasharray="1.05 0.4"/>
<path d="M598.49,172.00 C598.79,172.43 599.13,173.13 600.30,174.60 C601.47,176.07 603.47,178.60 605.51,180.80 C607.55,183.00 609.89,185.47 612.53,187.80 C615.18,190.13 618.42,192.60 621.36,194.80 C624.30,197.00 627.98,199.53 630.19,201.00 C632.39,202.47 632.29,202.58 634.60,203.60 C636.91,204.62 640.68,206.08 644.03,207.10 C647.37,208.12 650.21,208.28 654.66,209.70 C659.11,211.12 668.03,214.62 670.71,215.60" fill="none" stroke="#5ab4f2" stroke-width="1.75" stroke-dasharray="1.05 0.4"/>
<path d="M634.60,204.50 C636.17,204.65 640.68,204.97 644.03,205.40 C647.37,205.83 650.21,205.93 654.66,207.10 C659.11,208.27 668.03,211.52 670.71,212.40" fill="none" stroke="#5ab4f2" stroke-width="1.75" stroke-dasharray="1.05 0.4"/>
<path d="M598.49,204.40 C599.09,204.55 600.36,204.57 602.10,205.30 C603.84,206.03 606.32,207.35 608.92,208.80 C611.53,210.25 614.81,212.10 617.75,214.00 C620.69,215.90 623.77,218.30 626.58,220.20 C629.38,222.10 631.69,223.50 634.60,225.40 C637.51,227.30 640.68,229.55 644.03,231.60 C647.37,233.65 650.21,235.20 654.66,237.70 C659.11,240.20 668.03,245.12 670.71,246.60" fill="none" stroke="#3c3cdc" stroke-width="1.75" stroke-dasharray="1.05 0.4"/>
<path d="M598.49,204.40 C598.79,204.83 599.13,205.53 600.30,207.00 C601.47,208.47 603.47,210.87 605.51,213.20 C607.55,215.53 609.89,218.38 612.53,221.00 C615.18,223.62 618.42,226.55 621.36,228.90 C624.30,231.25 627.98,233.78 630.19,235.10 C632.39,236.42 632.29,235.92 634.60,236.80 C636.91,237.68 640.68,239.22 644.03,240.40 C647.37,241.58 650.21,242.50 654.66,243.90 C659.11,245.30 668.03,247.98 670.71,248.80" fill="none" stroke="#3c3cdc" stroke-width="1.75" stroke-dasharray="1.05 0.4"/>
<path d="M634.60,237.70 C636.17,238.00 640.68,238.77 644.03,239.50 C647.37,240.23 650.21,240.72 654.66,242.10 C659.11,243.48 668.03,246.85 670.71,247.80" fill="none" stroke="#3c3cdc" stroke-width="1.75" stroke-dasharray="1.05 0.4"/>
<text x="672.6" y="36.2" font-size="6.4" text-anchor="end" fill="#ee4fa8" stroke="#ee4fa8" stroke-width="0.08" font-weight="normal" font-style="normal" >200 K</text>
<text x="672.6" y="58.8" font-size="6.4" text-anchor="end" fill="#f24a5a" stroke="#f24a5a" stroke-width="0.08" font-weight="normal" font-style="normal" >150 K</text>
<text x="672.6" y="80.8" font-size="6.4" text-anchor="end" fill="#f2844a" stroke="#f2844a" stroke-width="0.08" font-weight="normal" font-style="normal" >100 K</text>
<text x="672.6" y="106.8" font-size="6.4" text-anchor="end" fill="#e3a64a" stroke="#e3a64a" stroke-width="0.08" font-weight="normal" font-style="normal" >70 K</text>
<text x="671.2" y="133.3" font-size="6.4" text-anchor="end" fill="#4ae04a" stroke="#4ae04a" stroke-width="0.08" font-weight="normal" font-style="normal" >50 K</text>
<text x="671.2" y="167.5" font-size="6.4" text-anchor="end" fill="#55e09a" stroke="#55e09a" stroke-width="0.08" font-weight="normal" font-style="normal" >30 K</text>
<text x="671.2" y="206" font-size="6.4" text-anchor="end" fill="#5ab4f2" stroke="#5ab4f2" stroke-width="0.08" font-weight="normal" font-style="normal" >10 K</text>
<text x="671.2" y="237.8" font-size="6.4" text-anchor="end" fill="#3c3cdc" stroke="#3c3cdc" stroke-width="0.08" font-weight="normal" font-style="normal" >4.5 K</text>
<line x1="678.5" y1="199" x2="678.5" y2="87" stroke="#444" stroke-width="0.9" />
<path d="M678.5,82.6 L680.05,89.4 L676.95,89.4 Z" fill="#333"/>
<text x="596.6" y="252.2" font-size="9.2" text-anchor="start" fill="#1a1a1a" stroke="#1a1a1a" stroke-width="0.22" font-weight="normal" font-style="normal" >S1_D#</text>
</svg></body></html>
